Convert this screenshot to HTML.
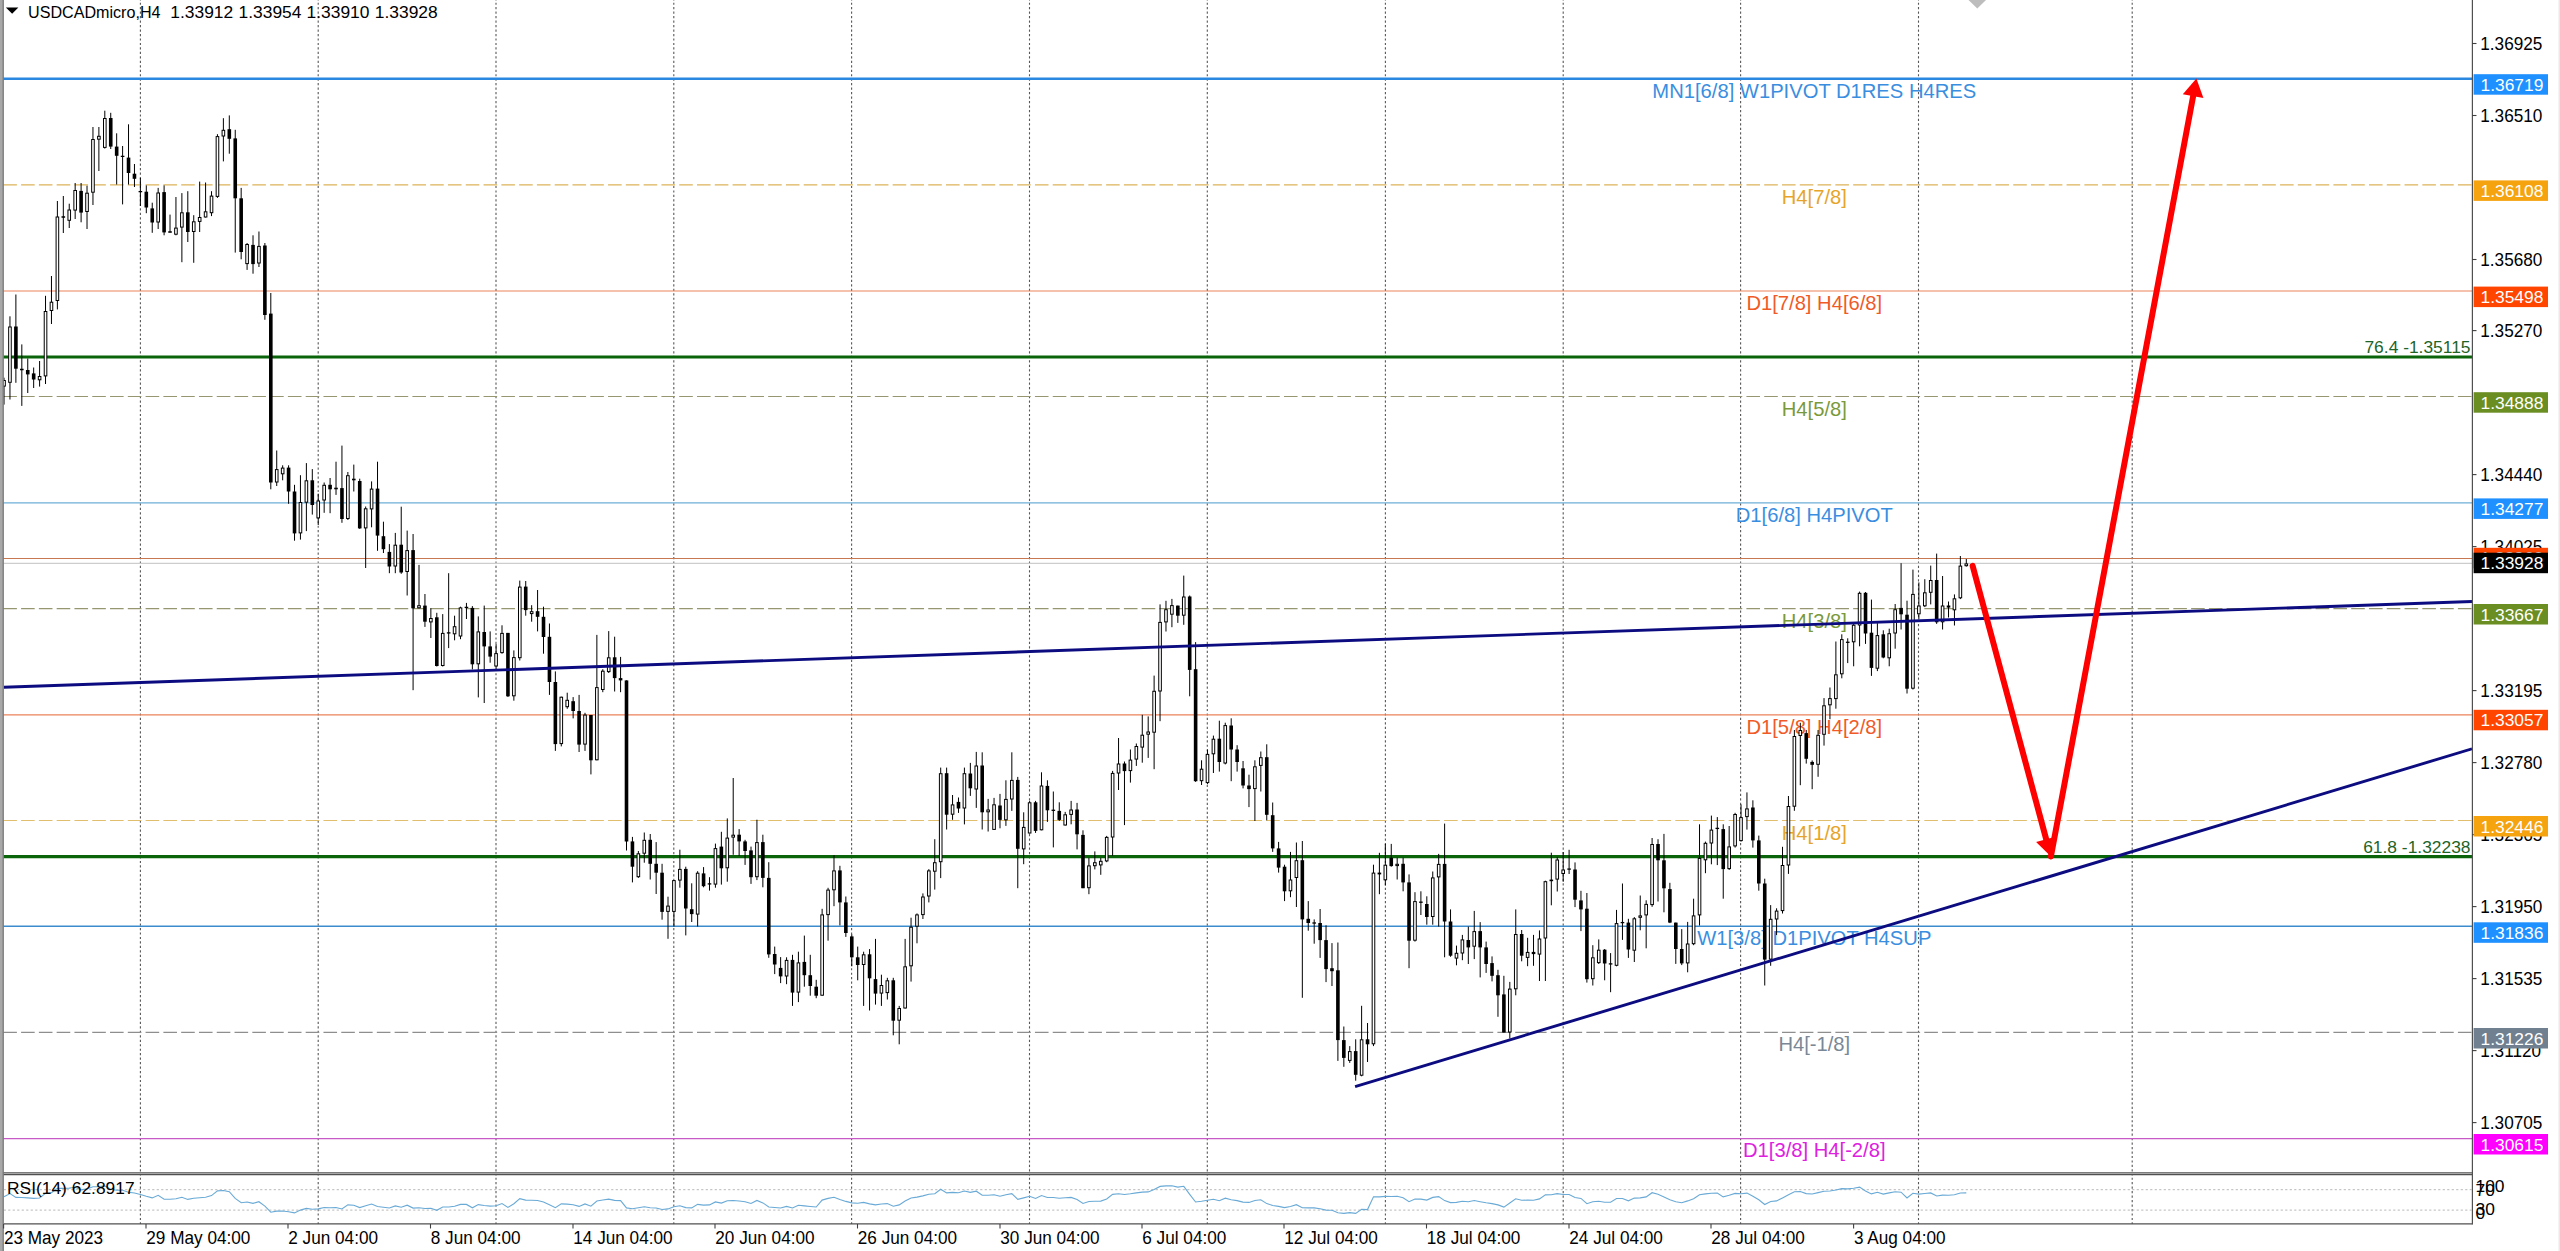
<!DOCTYPE html><html><head><meta charset="utf-8"><style>html,body{margin:0;padding:0;background:#fff;width:2560px;height:1251px;overflow:hidden}svg{display:block} text{font-family:"Liberation Sans", sans-serif}</style></head><body>
<svg width="2560" height="1251" viewBox="0 0 2560 1251">
<rect x="0" y="0" width="2560" height="1251" fill="#ffffff"/>
<defs><clipPath id="main"><rect x="3.7" y="0" width="2468.3" height="1172.3"/></clipPath><clipPath id="rsi"><rect x="3.7" y="1175" width="2468.3" height="48.5"/></clipPath></defs>
<g stroke="#3a3a3a" stroke-width="1.1" stroke-dasharray="2.2 2.27" stroke-dashoffset="1.82" opacity="0.85"><line x1="140.4" y1="0" x2="140.4" y2="1172" /><line x1="140.4" y1="1175" x2="140.4" y2="1224" /><line x1="318.2" y1="0" x2="318.2" y2="1172" /><line x1="318.2" y1="1175" x2="318.2" y2="1224" /><line x1="496.0" y1="0" x2="496.0" y2="1172" /><line x1="496.0" y1="1175" x2="496.0" y2="1224" /><line x1="673.8" y1="0" x2="673.8" y2="1172" /><line x1="673.8" y1="1175" x2="673.8" y2="1224" /><line x1="851.6" y1="0" x2="851.6" y2="1172" /><line x1="851.6" y1="1175" x2="851.6" y2="1224" /><line x1="1029.5" y1="0" x2="1029.5" y2="1172" /><line x1="1029.5" y1="1175" x2="1029.5" y2="1224" /><line x1="1207.3" y1="0" x2="1207.3" y2="1172" /><line x1="1207.3" y1="1175" x2="1207.3" y2="1224" /><line x1="1385.4" y1="0" x2="1385.4" y2="1172" /><line x1="1385.4" y1="1175" x2="1385.4" y2="1224" /><line x1="1563.2" y1="0" x2="1563.2" y2="1172" /><line x1="1563.2" y1="1175" x2="1563.2" y2="1224" /><line x1="1740.6" y1="0" x2="1740.6" y2="1172" /><line x1="1740.6" y1="1175" x2="1740.6" y2="1224" /><line x1="1918.5" y1="0" x2="1918.5" y2="1172" /><line x1="1918.5" y1="1175" x2="1918.5" y2="1224" /><line x1="2132.2" y1="0" x2="2132.2" y2="1172" /><line x1="2132.2" y1="1175" x2="2132.2" y2="1224" /></g>
<g><line x1="3.7" y1="78.8" x2="2472" y2="78.8" stroke="#2a88e0" stroke-width="2.6"/><line x1="3.7" y1="184.8" x2="2472" y2="184.8" stroke="#dcb45a" stroke-width="1.2" stroke-dasharray="13.6 4.187" stroke-dashoffset="0.4"/><line x1="3.7" y1="291.0" x2="2472" y2="291.0" stroke="#eb825a" stroke-width="1.2"/><line x1="3.7" y1="396.5" x2="2472" y2="396.5" stroke="#969670" stroke-width="1.2" stroke-dasharray="13.6 4.187" stroke-dashoffset="0.4"/><line x1="3.7" y1="502.8" x2="2472" y2="502.8" stroke="#6eafd7" stroke-width="1.2"/><line x1="3.7" y1="558.5" x2="2472" y2="558.5" stroke="#c87850" stroke-width="1.2"/><line x1="3.7" y1="563.4" x2="2472" y2="563.4" stroke="#cdcdcd" stroke-width="1.2"/><line x1="3.7" y1="608.6" x2="2472" y2="608.6" stroke="#969670" stroke-width="1.2" stroke-dasharray="13.6 4.187" stroke-dashoffset="0.4"/><line x1="3.7" y1="714.9" x2="2472" y2="714.9" stroke="#eb825a" stroke-width="1.2"/><line x1="3.7" y1="820.5" x2="2472" y2="820.5" stroke="#e1be6e" stroke-width="1.2" stroke-dasharray="13.6 4.187" stroke-dashoffset="0.4"/><line x1="3.7" y1="926.3" x2="2472" y2="926.3" stroke="#3c8ccd" stroke-width="1.5"/><line x1="3.7" y1="1032.4" x2="2472" y2="1032.4" stroke="#8e8e8e" stroke-width="1.2" stroke-dasharray="13.6 4.187" stroke-dashoffset="0.4"/><line x1="3.7" y1="1138.6" x2="2472" y2="1138.6" stroke="#c85ac8" stroke-width="1.2"/></g>
<line x1="3.7" y1="357.0" x2="2472" y2="357.0" stroke="#0a640a" stroke-width="3.2"/>
<line x1="3.7" y1="856.6" x2="2472" y2="856.6" stroke="#0a640a" stroke-width="3.2"/>
<g><text x="1814.3" y="97.8" fill="#3a8ee0" font-size="20.2" text-anchor="middle">MN1[6/8] W1PIVOT D1RES H4RES</text><text x="1814.3" y="203.8" fill="#e6a52a" font-size="20.2" text-anchor="middle">H4[7/8]</text><text x="1814.3" y="310.0" fill="#f05a28" font-size="20.2" text-anchor="middle">D1[7/8] H4[6/8]</text><text x="1814.3" y="415.5" fill="#7a9a3a" font-size="20.2" text-anchor="middle">H4[5/8]</text><text x="1814.3" y="521.8" fill="#3a8ee0" font-size="20.2" text-anchor="middle">D1[6/8] H4PIVOT</text><text x="1814.3" y="627.7" fill="#7a9a3a" font-size="20.2" text-anchor="middle">H4[3/8]</text><text x="1814.3" y="733.8" fill="#f05a28" font-size="20.2" text-anchor="middle">D1[5/8] H4[2/8]</text><text x="1814.3" y="839.5" fill="#e6a52a" font-size="20.2" text-anchor="middle">H4[1/8]</text><text x="1814.3" y="945.4" fill="#3a8ee0" font-size="20.2" text-anchor="middle">W1[3/8] D1PIVOT H4SUP</text><text x="1814.3" y="1051.3" fill="#7a8796" font-size="20.2" text-anchor="middle">H4[-1/8]</text><text x="1814.3" y="1157.4" fill="#e020e0" font-size="20.2" text-anchor="middle">D1[3/8] H4[-2/8]</text></g>
<text x="2470.5" y="353.4" fill="#1e6428" font-size="17.4" text-anchor="end">76.4 -1.35115</text>
<text x="2470.5" y="853.0" fill="#1e6428" font-size="17.4" text-anchor="end">61.8 -1.32238</text>
<g clip-path="url(#main)"><line x1="4.03" y1="377.7" x2="4.03" y2="404.6" stroke="#000" stroke-width="1"/><rect x="2.73" y="380.5" width="2.6" height="5.6" fill="#fff" stroke="#000" stroke-width="1"/><line x1="9.96" y1="316.3" x2="9.96" y2="399.5" stroke="#000" stroke-width="1"/><rect x="8.66" y="327.0" width="2.6" height="55.3" fill="#fff" stroke="#000" stroke-width="1"/><line x1="15.89" y1="294.5" x2="15.89" y2="382.8" stroke="#000" stroke-width="1"/><rect x="14.09" y="326.5" width="3.6" height="42.2" fill="#000"/><line x1="21.82" y1="344.4" x2="21.82" y2="405.9" stroke="#000" stroke-width="1"/><line x1="20.02" y1="369.5" x2="23.62" y2="369.5" stroke="#000" stroke-width="1.3"/><line x1="27.75" y1="358.5" x2="27.75" y2="393.0" stroke="#000" stroke-width="1"/><rect x="25.95" y="370.0" width="3.6" height="4.4" fill="#000"/><line x1="33.67" y1="367.5" x2="33.67" y2="388.0" stroke="#000" stroke-width="1"/><rect x="31.87" y="373.4" width="3.6" height="6.1" fill="#000"/><line x1="39.60" y1="361.0" x2="39.60" y2="386.6" stroke="#000" stroke-width="1"/><rect x="38.30" y="376.5" width="2.6" height="3.3" fill="#fff" stroke="#000" stroke-width="1"/><line x1="45.53" y1="295.8" x2="45.53" y2="384.0" stroke="#000" stroke-width="1"/><rect x="44.23" y="311.5" width="2.6" height="64.4" fill="#fff" stroke="#000" stroke-width="1"/><line x1="51.46" y1="276.0" x2="51.46" y2="324.0" stroke="#000" stroke-width="1"/><rect x="50.16" y="302.2" width="2.6" height="8.3" fill="#fff" stroke="#000" stroke-width="1"/><line x1="57.39" y1="201.0" x2="57.39" y2="309.4" stroke="#000" stroke-width="1"/><rect x="56.09" y="217.0" width="2.6" height="83.5" fill="#fff" stroke="#000" stroke-width="1"/><line x1="63.32" y1="196.0" x2="63.32" y2="233.0" stroke="#000" stroke-width="1"/><line x1="61.52" y1="217.0" x2="65.12" y2="217.0" stroke="#000" stroke-width="1.3"/><line x1="69.24" y1="203.7" x2="69.24" y2="228.0" stroke="#000" stroke-width="1"/><rect x="67.94" y="210.0" width="2.6" height="10.3" fill="#fff" stroke="#000" stroke-width="1"/><line x1="75.17" y1="183.0" x2="75.17" y2="219.0" stroke="#000" stroke-width="1"/><rect x="73.87" y="190.5" width="2.6" height="19.6" fill="#fff" stroke="#000" stroke-width="1"/><line x1="81.10" y1="183.0" x2="81.10" y2="222.3" stroke="#000" stroke-width="1"/><rect x="79.30" y="190.9" width="3.6" height="21.7" fill="#000"/><line x1="87.03" y1="185.7" x2="87.03" y2="229.0" stroke="#000" stroke-width="1"/><rect x="85.73" y="193.2" width="2.6" height="18.3" fill="#fff" stroke="#000" stroke-width="1"/><line x1="92.96" y1="127.0" x2="92.96" y2="205.0" stroke="#000" stroke-width="1"/><rect x="91.66" y="139.5" width="2.6" height="52.7" fill="#fff" stroke="#000" stroke-width="1"/><line x1="98.89" y1="127.0" x2="98.89" y2="171.0" stroke="#000" stroke-width="1"/><rect x="97.59" y="136.3" width="2.6" height="2.9" fill="#fff" stroke="#000" stroke-width="1"/><line x1="104.81" y1="110.7" x2="104.81" y2="148.6" stroke="#000" stroke-width="1"/><rect x="103.51" y="118.5" width="2.6" height="28.9" fill="#fff" stroke="#000" stroke-width="1"/><line x1="110.74" y1="112.8" x2="110.74" y2="149.0" stroke="#000" stroke-width="1"/><rect x="108.94" y="118.0" width="3.6" height="28.6" fill="#000"/><line x1="116.67" y1="133.3" x2="116.67" y2="184.5" stroke="#000" stroke-width="1"/><rect x="114.87" y="146.6" width="3.6" height="9.2" fill="#000"/><line x1="122.60" y1="146.0" x2="122.60" y2="204.4" stroke="#000" stroke-width="1"/><line x1="120.80" y1="156.3" x2="124.40" y2="156.3" stroke="#000" stroke-width="1.3"/><line x1="128.53" y1="124.3" x2="128.53" y2="184.5" stroke="#000" stroke-width="1"/><rect x="126.73" y="157.6" width="3.6" height="15.4" fill="#000"/><line x1="134.46" y1="164.0" x2="134.46" y2="187.0" stroke="#000" stroke-width="1"/><rect x="132.66" y="173.7" width="3.6" height="5.1" fill="#000"/><line x1="140.38" y1="178.0" x2="140.38" y2="206.0" stroke="#000" stroke-width="1"/><line x1="138.58" y1="191.6" x2="142.18" y2="191.6" stroke="#000" stroke-width="1.3"/><line x1="146.31" y1="185.4" x2="146.31" y2="213.2" stroke="#000" stroke-width="1"/><rect x="144.51" y="191.7" width="3.6" height="15.8" fill="#000"/><line x1="152.24" y1="202.7" x2="152.24" y2="232.8" stroke="#000" stroke-width="1"/><rect x="150.44" y="208.4" width="3.6" height="14.1" fill="#000"/><line x1="158.17" y1="187.9" x2="158.17" y2="229.0" stroke="#000" stroke-width="1"/><rect x="156.87" y="193.0" width="2.6" height="29.0" fill="#fff" stroke="#000" stroke-width="1"/><line x1="164.10" y1="185.4" x2="164.10" y2="235.3" stroke="#000" stroke-width="1"/><rect x="162.30" y="192.1" width="3.6" height="40.3" fill="#000"/><line x1="170.03" y1="214.6" x2="170.03" y2="232.4" stroke="#000" stroke-width="1"/><line x1="168.23" y1="232.0" x2="171.83" y2="232.0" stroke="#000" stroke-width="1.3"/><line x1="175.95" y1="197.0" x2="175.95" y2="235.3" stroke="#000" stroke-width="1"/><rect x="174.65" y="228.1" width="2.6" height="6.1" fill="#fff" stroke="#000" stroke-width="1"/><line x1="181.88" y1="193.1" x2="181.88" y2="262.2" stroke="#000" stroke-width="1"/><rect x="180.58" y="212.8" width="2.6" height="14.3" fill="#fff" stroke="#000" stroke-width="1"/><line x1="187.81" y1="191.2" x2="187.81" y2="242.0" stroke="#000" stroke-width="1"/><rect x="186.01" y="212.3" width="3.6" height="19.7" fill="#000"/><line x1="193.74" y1="215.2" x2="193.74" y2="262.8" stroke="#000" stroke-width="1"/><rect x="192.44" y="221.8" width="2.6" height="9.7" fill="#fff" stroke="#000" stroke-width="1"/><line x1="199.67" y1="181.6" x2="199.67" y2="232.0" stroke="#000" stroke-width="1"/><rect x="198.37" y="217.5" width="2.6" height="3.9" fill="#fff" stroke="#000" stroke-width="1"/><line x1="205.59" y1="182.5" x2="205.59" y2="217.5" stroke="#000" stroke-width="1"/><rect x="204.29" y="211.8" width="2.6" height="5.2" fill="#fff" stroke="#000" stroke-width="1"/><line x1="211.52" y1="191.2" x2="211.52" y2="216.1" stroke="#000" stroke-width="1"/><rect x="210.22" y="196.1" width="2.6" height="16.6" fill="#fff" stroke="#000" stroke-width="1"/><line x1="217.45" y1="134.2" x2="217.45" y2="197.9" stroke="#000" stroke-width="1"/><rect x="216.15" y="136.6" width="2.6" height="59.8" fill="#fff" stroke="#000" stroke-width="1"/><line x1="223.38" y1="118.2" x2="223.38" y2="161.4" stroke="#000" stroke-width="1"/><rect x="222.08" y="130.3" width="2.6" height="5.7" fill="#fff" stroke="#000" stroke-width="1"/><line x1="229.31" y1="115.4" x2="229.31" y2="153.7" stroke="#000" stroke-width="1"/><rect x="227.51" y="129.2" width="3.6" height="9.6" fill="#000"/><line x1="235.24" y1="129.8" x2="235.24" y2="252.6" stroke="#000" stroke-width="1"/><rect x="233.44" y="138.4" width="3.6" height="59.9" fill="#000"/><line x1="241.16" y1="187.9" x2="241.16" y2="259.3" stroke="#000" stroke-width="1"/><rect x="239.36" y="198.3" width="3.6" height="53.7" fill="#000"/><line x1="247.09" y1="243.0" x2="247.09" y2="269.9" stroke="#000" stroke-width="1"/><rect x="245.79" y="244.5" width="2.6" height="19.1" fill="#fff" stroke="#000" stroke-width="1"/><line x1="253.02" y1="235.3" x2="253.02" y2="273.7" stroke="#000" stroke-width="1"/><rect x="251.22" y="244.9" width="3.6" height="19.2" fill="#000"/><line x1="258.95" y1="231.5" x2="258.95" y2="267.0" stroke="#000" stroke-width="1"/><rect x="257.65" y="246.4" width="2.6" height="16.6" fill="#fff" stroke="#000" stroke-width="1"/><line x1="264.88" y1="243.0" x2="264.88" y2="319.8" stroke="#000" stroke-width="1"/><rect x="263.08" y="245.5" width="3.6" height="69.5" fill="#000"/><line x1="270.81" y1="293.0" x2="270.81" y2="489.3" stroke="#000" stroke-width="1"/><rect x="269.01" y="313.6" width="3.6" height="168.9" fill="#000"/><line x1="276.73" y1="450.5" x2="276.73" y2="486.0" stroke="#000" stroke-width="1"/><rect x="275.43" y="469.6" width="2.6" height="12.4" fill="#fff" stroke="#000" stroke-width="1"/><line x1="282.66" y1="465.3" x2="282.66" y2="480.3" stroke="#000" stroke-width="1"/><rect x="281.36" y="468.1" width="2.6" height="5.7" fill="#fff" stroke="#000" stroke-width="1"/><line x1="288.59" y1="465.3" x2="288.59" y2="503.8" stroke="#000" stroke-width="1"/><rect x="286.79" y="467.6" width="3.6" height="23.9" fill="#000"/><line x1="294.52" y1="484.8" x2="294.52" y2="540.7" stroke="#000" stroke-width="1"/><rect x="292.72" y="491.5" width="3.6" height="41.9" fill="#000"/><line x1="300.45" y1="475.2" x2="300.45" y2="539.6" stroke="#000" stroke-width="1"/><rect x="299.15" y="502.5" width="2.6" height="30.4" fill="#fff" stroke="#000" stroke-width="1"/><line x1="306.38" y1="463.1" x2="306.38" y2="531.1" stroke="#000" stroke-width="1"/><rect x="305.08" y="480.8" width="2.6" height="21.4" fill="#fff" stroke="#000" stroke-width="1"/><line x1="312.30" y1="469.1" x2="312.30" y2="514.6" stroke="#000" stroke-width="1"/><rect x="310.50" y="480.3" width="3.6" height="24.7" fill="#000"/><line x1="318.23" y1="493.7" x2="318.23" y2="525.0" stroke="#000" stroke-width="1"/><rect x="316.93" y="501.0" width="2.6" height="16.9" fill="#fff" stroke="#000" stroke-width="1"/><line x1="324.16" y1="482.5" x2="324.16" y2="512.8" stroke="#000" stroke-width="1"/><rect x="322.86" y="485.3" width="2.6" height="14.7" fill="#fff" stroke="#000" stroke-width="1"/><line x1="330.09" y1="478.0" x2="330.09" y2="513.2" stroke="#000" stroke-width="1"/><rect x="328.29" y="484.8" width="3.6" height="4.5" fill="#000"/><line x1="336.02" y1="461.7" x2="336.02" y2="494.9" stroke="#000" stroke-width="1"/><rect x="334.72" y="488.2" width="2.6" height="0.6" fill="#fff" stroke="#000" stroke-width="1"/><line x1="341.95" y1="445.6" x2="341.95" y2="522.8" stroke="#000" stroke-width="1"/><rect x="340.15" y="488.1" width="3.6" height="30.9" fill="#000"/><line x1="347.87" y1="472.0" x2="347.87" y2="520.0" stroke="#000" stroke-width="1"/><rect x="346.57" y="475.7" width="2.6" height="42.8" fill="#fff" stroke="#000" stroke-width="1"/><line x1="353.80" y1="464.6" x2="353.80" y2="491.5" stroke="#000" stroke-width="1"/><rect x="352.00" y="478.7" width="3.6" height="1.6" fill="#000"/><line x1="359.73" y1="478.7" x2="359.73" y2="528.9" stroke="#000" stroke-width="1"/><rect x="357.93" y="481.0" width="3.6" height="47.4" fill="#000"/><line x1="365.66" y1="506.5" x2="365.66" y2="568.0" stroke="#000" stroke-width="1"/><rect x="364.36" y="508.8" width="2.6" height="19.1" fill="#fff" stroke="#000" stroke-width="1"/><line x1="371.59" y1="481.4" x2="371.59" y2="527.3" stroke="#000" stroke-width="1"/><rect x="370.29" y="489.1" width="2.6" height="19.8" fill="#fff" stroke="#000" stroke-width="1"/><line x1="377.52" y1="461.7" x2="377.52" y2="550.8" stroke="#000" stroke-width="1"/><rect x="375.72" y="488.6" width="3.6" height="47.0" fill="#000"/><line x1="383.44" y1="521.7" x2="383.44" y2="553.0" stroke="#000" stroke-width="1"/><rect x="381.64" y="536.2" width="3.6" height="13.0" fill="#000"/><line x1="389.37" y1="544.1" x2="389.37" y2="573.2" stroke="#000" stroke-width="1"/><rect x="387.57" y="551.9" width="3.6" height="14.6" fill="#000"/><line x1="395.30" y1="532.9" x2="395.30" y2="573.2" stroke="#000" stroke-width="1"/><rect x="394.00" y="545.2" width="2.6" height="20.8" fill="#fff" stroke="#000" stroke-width="1"/><line x1="401.23" y1="506.7" x2="401.23" y2="573.8" stroke="#000" stroke-width="1"/><rect x="399.43" y="544.7" width="3.6" height="27.8" fill="#000"/><line x1="407.16" y1="530.6" x2="407.16" y2="595.5" stroke="#000" stroke-width="1"/><rect x="405.86" y="550.6" width="2.6" height="20.9" fill="#fff" stroke="#000" stroke-width="1"/><line x1="413.09" y1="534.0" x2="413.09" y2="690.2" stroke="#000" stroke-width="1"/><rect x="411.29" y="550.1" width="3.6" height="58.2" fill="#000"/><line x1="419.01" y1="564.9" x2="419.01" y2="608.3" stroke="#000" stroke-width="1"/><rect x="417.71" y="605.7" width="2.6" height="2.1" fill="#fff" stroke="#000" stroke-width="1"/><line x1="424.94" y1="594.0" x2="424.94" y2="626.9" stroke="#000" stroke-width="1"/><rect x="423.14" y="605.6" width="3.6" height="16.1" fill="#000"/><line x1="430.87" y1="608.3" x2="430.87" y2="638.0" stroke="#000" stroke-width="1"/><rect x="429.57" y="618.5" width="2.6" height="3.4" fill="#fff" stroke="#000" stroke-width="1"/><line x1="436.80" y1="612.8" x2="436.80" y2="666.5" stroke="#000" stroke-width="1"/><rect x="435.00" y="617.3" width="3.6" height="48.7" fill="#000"/><line x1="442.73" y1="614.1" x2="442.73" y2="666.5" stroke="#000" stroke-width="1"/><rect x="441.43" y="633.4" width="2.6" height="32.1" fill="#fff" stroke="#000" stroke-width="1"/><line x1="448.66" y1="573.2" x2="448.66" y2="648.1" stroke="#000" stroke-width="1"/><line x1="446.86" y1="632.9" x2="450.46" y2="632.9" stroke="#000" stroke-width="1.3"/><line x1="454.58" y1="615.7" x2="454.58" y2="640.3" stroke="#000" stroke-width="1"/><rect x="453.28" y="626.7" width="2.6" height="7.1" fill="#fff" stroke="#000" stroke-width="1"/><line x1="460.51" y1="606.7" x2="460.51" y2="639.2" stroke="#000" stroke-width="1"/><rect x="459.21" y="607.9" width="2.6" height="28.1" fill="#fff" stroke="#000" stroke-width="1"/><line x1="466.44" y1="602.9" x2="466.44" y2="619.0" stroke="#000" stroke-width="1"/><line x1="464.64" y1="607.4" x2="468.24" y2="607.4" stroke="#000" stroke-width="1.3"/><line x1="472.37" y1="606.1" x2="472.37" y2="669.4" stroke="#000" stroke-width="1"/><rect x="470.57" y="607.9" width="3.6" height="56.4" fill="#000"/><line x1="478.30" y1="616.4" x2="478.30" y2="697.4" stroke="#000" stroke-width="1"/><rect x="477.00" y="631.9" width="2.6" height="31.9" fill="#fff" stroke="#000" stroke-width="1"/><line x1="484.22" y1="605.6" x2="484.22" y2="703.0" stroke="#000" stroke-width="1"/><rect x="482.42" y="632.0" width="3.6" height="14.4" fill="#000"/><line x1="490.15" y1="631.4" x2="490.15" y2="662.7" stroke="#000" stroke-width="1"/><rect x="488.35" y="646.4" width="3.6" height="10.2" fill="#000"/><line x1="496.08" y1="644.1" x2="496.08" y2="670.5" stroke="#000" stroke-width="1"/><rect x="494.78" y="653.6" width="2.6" height="12.4" fill="#fff" stroke="#000" stroke-width="1"/><line x1="502.01" y1="625.3" x2="502.01" y2="653.7" stroke="#000" stroke-width="1"/><rect x="500.71" y="633.4" width="2.6" height="19.2" fill="#fff" stroke="#000" stroke-width="1"/><line x1="507.94" y1="632.9" x2="507.94" y2="697.0" stroke="#000" stroke-width="1"/><rect x="506.14" y="632.9" width="3.6" height="63.4" fill="#000"/><line x1="513.87" y1="650.4" x2="513.87" y2="700.7" stroke="#000" stroke-width="1"/><rect x="512.57" y="657.6" width="2.6" height="38.2" fill="#fff" stroke="#000" stroke-width="1"/><line x1="519.79" y1="580.6" x2="519.79" y2="660.5" stroke="#000" stroke-width="1"/><rect x="518.49" y="587.1" width="2.6" height="70.6" fill="#fff" stroke="#000" stroke-width="1"/><line x1="525.72" y1="581.0" x2="525.72" y2="615.7" stroke="#000" stroke-width="1"/><rect x="523.92" y="586.6" width="3.6" height="23.5" fill="#000"/><line x1="531.65" y1="605.2" x2="531.65" y2="621.7" stroke="#000" stroke-width="1"/><rect x="530.35" y="611.7" width="2.6" height="1.9" fill="#fff" stroke="#000" stroke-width="1"/><line x1="537.58" y1="590.0" x2="537.58" y2="631.4" stroke="#000" stroke-width="1"/><rect x="535.78" y="611.2" width="3.6" height="5.6" fill="#000"/><line x1="543.51" y1="606.7" x2="543.51" y2="653.7" stroke="#000" stroke-width="1"/><rect x="541.71" y="616.8" width="3.6" height="20.2" fill="#000"/><line x1="549.44" y1="623.5" x2="549.44" y2="694.9" stroke="#000" stroke-width="1"/><rect x="547.64" y="636.8" width="3.6" height="45.2" fill="#000"/><line x1="555.36" y1="671.4" x2="555.36" y2="750.9" stroke="#000" stroke-width="1"/><rect x="553.56" y="682.0" width="3.6" height="62.1" fill="#000"/><line x1="561.29" y1="696.7" x2="561.29" y2="746.4" stroke="#000" stroke-width="1"/><rect x="559.99" y="697.2" width="2.6" height="46.4" fill="#fff" stroke="#000" stroke-width="1"/><line x1="567.22" y1="692.7" x2="567.22" y2="708.8" stroke="#000" stroke-width="1"/><rect x="565.92" y="700.3" width="2.6" height="6.4" fill="#fff" stroke="#000" stroke-width="1"/><line x1="573.15" y1="697.1" x2="573.15" y2="718.4" stroke="#000" stroke-width="1"/><rect x="571.35" y="701.2" width="3.6" height="9.8" fill="#000"/><line x1="579.08" y1="694.9" x2="579.08" y2="752.0" stroke="#000" stroke-width="1"/><rect x="577.28" y="711.0" width="3.6" height="33.6" fill="#000"/><line x1="585.01" y1="712.8" x2="585.01" y2="750.9" stroke="#000" stroke-width="1"/><rect x="583.71" y="715.1" width="2.6" height="29.0" fill="#fff" stroke="#000" stroke-width="1"/><line x1="590.93" y1="715.0" x2="590.93" y2="774.4" stroke="#000" stroke-width="1"/><rect x="589.13" y="715.0" width="3.6" height="45.3" fill="#000"/><line x1="596.86" y1="634.9" x2="596.86" y2="760.3" stroke="#000" stroke-width="1"/><rect x="595.56" y="687.6" width="2.6" height="72.2" fill="#fff" stroke="#000" stroke-width="1"/><line x1="602.79" y1="669.2" x2="602.79" y2="692.2" stroke="#000" stroke-width="1"/><rect x="601.49" y="671.2" width="2.6" height="18.3" fill="#fff" stroke="#000" stroke-width="1"/><line x1="608.72" y1="631.1" x2="608.72" y2="673.0" stroke="#000" stroke-width="1"/><rect x="607.42" y="657.8" width="2.6" height="13.8" fill="#fff" stroke="#000" stroke-width="1"/><line x1="614.65" y1="636.7" x2="614.65" y2="691.5" stroke="#000" stroke-width="1"/><rect x="612.85" y="657.3" width="3.6" height="20.8" fill="#000"/><line x1="620.58" y1="656.9" x2="620.58" y2="692.2" stroke="#000" stroke-width="1"/><rect x="618.78" y="678.1" width="3.6" height="2.3" fill="#000"/><line x1="626.50" y1="680.4" x2="626.50" y2="850.5" stroke="#000" stroke-width="1"/><rect x="624.70" y="680.4" width="3.6" height="161.1" fill="#000"/><line x1="632.43" y1="836.9" x2="632.43" y2="882.4" stroke="#000" stroke-width="1"/><rect x="630.63" y="841.4" width="3.6" height="25.3" fill="#000"/><line x1="638.36" y1="851.0" x2="638.36" y2="877.9" stroke="#000" stroke-width="1"/><rect x="637.06" y="853.8" width="2.6" height="22.9" fill="#fff" stroke="#000" stroke-width="1"/><line x1="644.29" y1="832.5" x2="644.29" y2="862.7" stroke="#000" stroke-width="1"/><rect x="642.99" y="840.3" width="2.6" height="12.9" fill="#fff" stroke="#000" stroke-width="1"/><line x1="650.22" y1="834.0" x2="650.22" y2="879.5" stroke="#000" stroke-width="1"/><rect x="648.42" y="839.8" width="3.6" height="24.0" fill="#000"/><line x1="656.15" y1="842.1" x2="656.15" y2="894.0" stroke="#000" stroke-width="1"/><rect x="654.35" y="863.8" width="3.6" height="8.9" fill="#000"/><line x1="662.07" y1="863.8" x2="662.07" y2="919.7" stroke="#000" stroke-width="1"/><rect x="660.27" y="872.7" width="3.6" height="39.2" fill="#000"/><line x1="668.00" y1="896.7" x2="668.00" y2="938.8" stroke="#000" stroke-width="1"/><rect x="666.70" y="906.1" width="2.6" height="5.3" fill="#fff" stroke="#000" stroke-width="1"/><line x1="673.93" y1="880.1" x2="673.93" y2="926.5" stroke="#000" stroke-width="1"/><rect x="672.63" y="880.6" width="2.6" height="30.8" fill="#fff" stroke="#000" stroke-width="1"/><line x1="679.86" y1="849.7" x2="679.86" y2="887.7" stroke="#000" stroke-width="1"/><rect x="678.56" y="869.4" width="2.6" height="10.7" fill="#fff" stroke="#000" stroke-width="1"/><line x1="685.79" y1="866.7" x2="685.79" y2="935.4" stroke="#000" stroke-width="1"/><rect x="683.99" y="868.9" width="3.6" height="39.6" fill="#000"/><line x1="691.72" y1="883.3" x2="691.72" y2="922.0" stroke="#000" stroke-width="1"/><rect x="689.92" y="909.2" width="3.6" height="4.9" fill="#000"/><line x1="697.64" y1="871.2" x2="697.64" y2="926.5" stroke="#000" stroke-width="1"/><rect x="696.34" y="873.2" width="2.6" height="40.9" fill="#fff" stroke="#000" stroke-width="1"/><line x1="703.57" y1="867.1" x2="703.57" y2="887.3" stroke="#000" stroke-width="1"/><rect x="701.77" y="873.4" width="3.6" height="12.8" fill="#000"/><line x1="709.50" y1="877.2" x2="709.50" y2="890.6" stroke="#000" stroke-width="1"/><line x1="707.70" y1="883.9" x2="711.30" y2="883.9" stroke="#000" stroke-width="1.3"/><line x1="715.43" y1="843.6" x2="715.43" y2="887.7" stroke="#000" stroke-width="1"/><rect x="714.13" y="848.6" width="2.6" height="35.5" fill="#fff" stroke="#000" stroke-width="1"/><line x1="721.36" y1="831.8" x2="721.36" y2="884.6" stroke="#000" stroke-width="1"/><rect x="719.56" y="846.6" width="3.6" height="21.7" fill="#000"/><line x1="727.29" y1="818.4" x2="727.29" y2="881.7" stroke="#000" stroke-width="1"/><rect x="725.99" y="838.1" width="2.6" height="29.7" fill="#fff" stroke="#000" stroke-width="1"/><line x1="733.21" y1="778.0" x2="733.21" y2="854.8" stroke="#000" stroke-width="1"/><rect x="731.91" y="835.2" width="2.6" height="1.9" fill="#fff" stroke="#000" stroke-width="1"/><line x1="739.14" y1="829.1" x2="739.14" y2="856.0" stroke="#000" stroke-width="1"/><rect x="737.34" y="834.7" width="3.6" height="6.7" fill="#000"/><line x1="745.07" y1="839.8" x2="745.07" y2="864.9" stroke="#000" stroke-width="1"/><rect x="743.27" y="841.4" width="3.6" height="9.6" fill="#000"/><line x1="751.00" y1="846.6" x2="751.00" y2="883.9" stroke="#000" stroke-width="1"/><rect x="749.20" y="850.4" width="3.6" height="26.8" fill="#000"/><line x1="756.93" y1="819.7" x2="756.93" y2="880.1" stroke="#000" stroke-width="1"/><rect x="755.63" y="842.6" width="2.6" height="34.1" fill="#fff" stroke="#000" stroke-width="1"/><line x1="762.86" y1="834.7" x2="762.86" y2="887.3" stroke="#000" stroke-width="1"/><rect x="761.06" y="842.1" width="3.6" height="35.8" fill="#000"/><line x1="768.78" y1="862.2" x2="768.78" y2="957.8" stroke="#000" stroke-width="1"/><rect x="766.98" y="877.9" width="3.6" height="76.5" fill="#000"/><line x1="774.71" y1="946.6" x2="774.71" y2="974.1" stroke="#000" stroke-width="1"/><rect x="772.91" y="954.0" width="3.6" height="10.5" fill="#000"/><line x1="780.64" y1="957.1" x2="780.64" y2="983.1" stroke="#000" stroke-width="1"/><rect x="778.84" y="967.9" width="3.6" height="8.5" fill="#000"/><line x1="786.57" y1="957.3" x2="786.57" y2="984.2" stroke="#000" stroke-width="1"/><rect x="785.27" y="960.4" width="2.6" height="15.6" fill="#fff" stroke="#000" stroke-width="1"/><line x1="792.50" y1="954.8" x2="792.50" y2="1005.9" stroke="#000" stroke-width="1"/><rect x="790.70" y="959.9" width="3.6" height="32.7" fill="#000"/><line x1="798.42" y1="951.7" x2="798.42" y2="1002.1" stroke="#000" stroke-width="1"/><rect x="797.12" y="962.9" width="2.6" height="29.2" fill="#fff" stroke="#000" stroke-width="1"/><line x1="804.35" y1="935.6" x2="804.35" y2="986.7" stroke="#000" stroke-width="1"/><rect x="802.55" y="961.9" width="3.6" height="13.3" fill="#000"/><line x1="810.28" y1="954.8" x2="810.28" y2="995.7" stroke="#000" stroke-width="1"/><rect x="808.48" y="975.2" width="3.6" height="10.8" fill="#000"/><line x1="816.21" y1="979.8" x2="816.21" y2="998.2" stroke="#000" stroke-width="1"/><rect x="814.41" y="986.7" width="3.6" height="9.0" fill="#000"/><line x1="822.14" y1="908.8" x2="822.14" y2="995.7" stroke="#000" stroke-width="1"/><rect x="820.84" y="914.9" width="2.6" height="80.3" fill="#fff" stroke="#000" stroke-width="1"/><line x1="828.07" y1="887.8" x2="828.07" y2="940.7" stroke="#000" stroke-width="1"/><rect x="826.77" y="890.1" width="2.6" height="24.5" fill="#fff" stroke="#000" stroke-width="1"/><line x1="833.99" y1="855.1" x2="833.99" y2="906.2" stroke="#000" stroke-width="1"/><rect x="832.69" y="870.9" width="2.6" height="18.9" fill="#fff" stroke="#000" stroke-width="1"/><line x1="839.92" y1="865.8" x2="839.92" y2="925.4" stroke="#000" stroke-width="1"/><rect x="838.12" y="870.4" width="3.6" height="32.0" fill="#000"/><line x1="845.85" y1="896.5" x2="845.85" y2="936.9" stroke="#000" stroke-width="1"/><rect x="844.05" y="902.4" width="3.6" height="30.6" fill="#000"/><line x1="851.78" y1="934.3" x2="851.78" y2="966.3" stroke="#000" stroke-width="1"/><rect x="849.98" y="936.4" width="3.6" height="20.9" fill="#000"/><line x1="857.71" y1="946.6" x2="857.71" y2="980.3" stroke="#000" stroke-width="1"/><rect x="855.91" y="957.3" width="3.6" height="7.7" fill="#000"/><line x1="863.64" y1="951.7" x2="863.64" y2="1005.9" stroke="#000" stroke-width="1"/><rect x="862.34" y="954.8" width="2.6" height="9.7" fill="#fff" stroke="#000" stroke-width="1"/><line x1="869.56" y1="949.1" x2="869.56" y2="1010.5" stroke="#000" stroke-width="1"/><rect x="867.76" y="954.3" width="3.6" height="24.0" fill="#000"/><line x1="875.49" y1="938.9" x2="875.49" y2="1004.6" stroke="#000" stroke-width="1"/><rect x="873.69" y="979.1" width="3.6" height="14.5" fill="#000"/><line x1="881.42" y1="974.7" x2="881.42" y2="1005.9" stroke="#000" stroke-width="1"/><rect x="880.12" y="985.5" width="2.6" height="7.6" fill="#fff" stroke="#000" stroke-width="1"/><line x1="887.35" y1="977.8" x2="887.35" y2="999.5" stroke="#000" stroke-width="1"/><rect x="886.05" y="980.8" width="2.6" height="11.8" fill="#fff" stroke="#000" stroke-width="1"/><line x1="893.28" y1="977.8" x2="893.28" y2="1035.3" stroke="#000" stroke-width="1"/><rect x="891.48" y="980.3" width="3.6" height="40.4" fill="#000"/><line x1="899.21" y1="1005.9" x2="899.21" y2="1044.3" stroke="#000" stroke-width="1"/><rect x="897.91" y="1008.5" width="2.6" height="11.7" fill="#fff" stroke="#000" stroke-width="1"/><line x1="905.13" y1="938.9" x2="905.13" y2="1008.5" stroke="#000" stroke-width="1"/><rect x="903.83" y="966.8" width="2.6" height="41.2" fill="#fff" stroke="#000" stroke-width="1"/><line x1="911.06" y1="917.7" x2="911.06" y2="981.6" stroke="#000" stroke-width="1"/><rect x="909.76" y="927.2" width="2.6" height="38.6" fill="#fff" stroke="#000" stroke-width="1"/><line x1="916.99" y1="913.4" x2="916.99" y2="943.3" stroke="#000" stroke-width="1"/><rect x="915.69" y="914.9" width="2.6" height="11.3" fill="#fff" stroke="#000" stroke-width="1"/><line x1="922.92" y1="893.4" x2="922.92" y2="919.0" stroke="#000" stroke-width="1"/><rect x="921.62" y="897.0" width="2.6" height="17.6" fill="#fff" stroke="#000" stroke-width="1"/><line x1="928.85" y1="869.1" x2="928.85" y2="902.4" stroke="#000" stroke-width="1"/><rect x="927.55" y="870.9" width="2.6" height="25.1" fill="#fff" stroke="#000" stroke-width="1"/><line x1="934.78" y1="839.2" x2="934.78" y2="889.6" stroke="#000" stroke-width="1"/><rect x="933.48" y="862.7" width="2.6" height="8.5" fill="#fff" stroke="#000" stroke-width="1"/><line x1="940.70" y1="767.6" x2="940.70" y2="878.1" stroke="#000" stroke-width="1"/><rect x="939.40" y="773.7" width="2.6" height="88.0" fill="#fff" stroke="#000" stroke-width="1"/><line x1="946.63" y1="767.6" x2="946.63" y2="829.5" stroke="#000" stroke-width="1"/><rect x="944.83" y="773.2" width="3.6" height="41.5" fill="#000"/><line x1="952.56" y1="795.0" x2="952.56" y2="819.8" stroke="#000" stroke-width="1"/><rect x="951.26" y="804.9" width="2.6" height="9.3" fill="#fff" stroke="#000" stroke-width="1"/><line x1="958.49" y1="797.5" x2="958.49" y2="812.9" stroke="#000" stroke-width="1"/><rect x="956.69" y="801.9" width="3.6" height="6.6" fill="#000"/><line x1="964.42" y1="767.6" x2="964.42" y2="824.4" stroke="#000" stroke-width="1"/><rect x="963.12" y="773.7" width="2.6" height="34.3" fill="#fff" stroke="#000" stroke-width="1"/><line x1="970.35" y1="762.9" x2="970.35" y2="795.9" stroke="#000" stroke-width="1"/><rect x="968.55" y="773.5" width="3.6" height="14.8" fill="#000"/><line x1="976.27" y1="751.9" x2="976.27" y2="807.9" stroke="#000" stroke-width="1"/><rect x="974.97" y="766.0" width="2.6" height="23.0" fill="#fff" stroke="#000" stroke-width="1"/><line x1="982.20" y1="752.3" x2="982.20" y2="829.5" stroke="#000" stroke-width="1"/><rect x="980.40" y="765.5" width="3.6" height="46.8" fill="#000"/><line x1="988.13" y1="798.9" x2="988.13" y2="831.5" stroke="#000" stroke-width="1"/><rect x="986.83" y="810.0" width="2.6" height="1.8" fill="#fff" stroke="#000" stroke-width="1"/><line x1="994.06" y1="797.9" x2="994.06" y2="829.9" stroke="#000" stroke-width="1"/><rect x="992.76" y="804.8" width="2.6" height="24.6" fill="#fff" stroke="#000" stroke-width="1"/><line x1="999.99" y1="793.9" x2="999.99" y2="828.3" stroke="#000" stroke-width="1"/><rect x="998.19" y="805.5" width="3.6" height="14.4" fill="#000"/><line x1="1005.92" y1="780.3" x2="1005.92" y2="825.9" stroke="#000" stroke-width="1"/><rect x="1004.62" y="799.4" width="2.6" height="20.4" fill="#fff" stroke="#000" stroke-width="1"/><line x1="1011.84" y1="752.3" x2="1011.84" y2="810.9" stroke="#000" stroke-width="1"/><rect x="1010.54" y="780.4" width="2.6" height="18.6" fill="#fff" stroke="#000" stroke-width="1"/><line x1="1017.77" y1="776.9" x2="1017.77" y2="888.2" stroke="#000" stroke-width="1"/><rect x="1015.97" y="779.9" width="3.6" height="68.9" fill="#000"/><line x1="1023.70" y1="812.3" x2="1023.70" y2="864.2" stroke="#000" stroke-width="1"/><rect x="1022.40" y="827.4" width="2.6" height="21.5" fill="#fff" stroke="#000" stroke-width="1"/><line x1="1029.63" y1="800.9" x2="1029.63" y2="833.5" stroke="#000" stroke-width="1"/><rect x="1028.33" y="802.8" width="2.6" height="30.2" fill="#fff" stroke="#000" stroke-width="1"/><line x1="1035.56" y1="800.9" x2="1035.56" y2="832.9" stroke="#000" stroke-width="1"/><rect x="1033.76" y="802.3" width="3.6" height="28.6" fill="#000"/><line x1="1041.49" y1="772.3" x2="1041.49" y2="830.3" stroke="#000" stroke-width="1"/><rect x="1040.19" y="786.0" width="2.6" height="43.8" fill="#fff" stroke="#000" stroke-width="1"/><line x1="1047.41" y1="780.3" x2="1047.41" y2="821.9" stroke="#000" stroke-width="1"/><rect x="1045.61" y="785.9" width="3.6" height="24.4" fill="#000"/><line x1="1053.34" y1="791.5" x2="1053.34" y2="847.4" stroke="#000" stroke-width="1"/><line x1="1051.54" y1="810.3" x2="1055.14" y2="810.3" stroke="#000" stroke-width="1.3"/><line x1="1059.27" y1="802.3" x2="1059.27" y2="820.9" stroke="#000" stroke-width="1"/><rect x="1057.47" y="810.9" width="3.6" height="9.0" fill="#000"/><line x1="1065.20" y1="811.9" x2="1065.20" y2="825.5" stroke="#000" stroke-width="1"/><rect x="1063.90" y="814.8" width="2.6" height="10.2" fill="#fff" stroke="#000" stroke-width="1"/><line x1="1071.13" y1="800.9" x2="1071.13" y2="824.3" stroke="#000" stroke-width="1"/><rect x="1069.83" y="810.0" width="2.6" height="4.4" fill="#fff" stroke="#000" stroke-width="1"/><line x1="1077.05" y1="802.9" x2="1077.05" y2="849.4" stroke="#000" stroke-width="1"/><rect x="1075.25" y="809.5" width="3.6" height="24.8" fill="#000"/><line x1="1082.98" y1="830.3" x2="1082.98" y2="888.2" stroke="#000" stroke-width="1"/><rect x="1081.18" y="834.9" width="3.6" height="53.3" fill="#000"/><line x1="1088.91" y1="857.8" x2="1088.91" y2="894.2" stroke="#000" stroke-width="1"/><rect x="1087.61" y="865.9" width="2.6" height="21.8" fill="#fff" stroke="#000" stroke-width="1"/><line x1="1094.84" y1="851.4" x2="1094.84" y2="869.4" stroke="#000" stroke-width="1"/><rect x="1093.54" y="862.7" width="2.6" height="3.0" fill="#fff" stroke="#000" stroke-width="1"/><line x1="1100.77" y1="857.8" x2="1100.77" y2="874.8" stroke="#000" stroke-width="1"/><rect x="1099.47" y="861.3" width="2.6" height="3.6" fill="#fff" stroke="#000" stroke-width="1"/><line x1="1106.70" y1="835.9" x2="1106.70" y2="862.2" stroke="#000" stroke-width="1"/><rect x="1105.40" y="837.4" width="2.6" height="23.5" fill="#fff" stroke="#000" stroke-width="1"/><line x1="1112.62" y1="770.9" x2="1112.62" y2="855.8" stroke="#000" stroke-width="1"/><rect x="1111.32" y="773.4" width="2.6" height="63.6" fill="#fff" stroke="#000" stroke-width="1"/><line x1="1118.55" y1="738.0" x2="1118.55" y2="790.0" stroke="#000" stroke-width="1"/><rect x="1117.25" y="764.0" width="2.6" height="9.0" fill="#fff" stroke="#000" stroke-width="1"/><line x1="1124.48" y1="761.5" x2="1124.48" y2="825.1" stroke="#000" stroke-width="1"/><rect x="1122.68" y="763.5" width="3.6" height="7.6" fill="#000"/><line x1="1130.41" y1="749.5" x2="1130.41" y2="782.6" stroke="#000" stroke-width="1"/><rect x="1129.11" y="760.1" width="2.6" height="10.5" fill="#fff" stroke="#000" stroke-width="1"/><line x1="1136.34" y1="743.5" x2="1136.34" y2="765.9" stroke="#000" stroke-width="1"/><rect x="1135.04" y="746.5" width="2.6" height="12.6" fill="#fff" stroke="#000" stroke-width="1"/><line x1="1142.27" y1="714.8" x2="1142.27" y2="762.7" stroke="#000" stroke-width="1"/><rect x="1140.97" y="735.2" width="2.6" height="11.9" fill="#fff" stroke="#000" stroke-width="1"/><line x1="1148.19" y1="716.4" x2="1148.19" y2="757.9" stroke="#000" stroke-width="1"/><rect x="1146.89" y="732.0" width="2.6" height="2.2" fill="#fff" stroke="#000" stroke-width="1"/><line x1="1154.12" y1="675.6" x2="1154.12" y2="769.2" stroke="#000" stroke-width="1"/><rect x="1152.82" y="691.3" width="2.6" height="40.9" fill="#fff" stroke="#000" stroke-width="1"/><line x1="1160.05" y1="604.4" x2="1160.05" y2="721.2" stroke="#000" stroke-width="1"/><rect x="1158.75" y="622.4" width="2.6" height="68.6" fill="#fff" stroke="#000" stroke-width="1"/><line x1="1165.98" y1="600.8" x2="1165.98" y2="631.5" stroke="#000" stroke-width="1"/><rect x="1164.68" y="609.7" width="2.6" height="12.2" fill="#fff" stroke="#000" stroke-width="1"/><line x1="1171.91" y1="598.9" x2="1171.91" y2="627.2" stroke="#000" stroke-width="1"/><rect x="1170.61" y="605.6" width="2.6" height="8.6" fill="#fff" stroke="#000" stroke-width="1"/><line x1="1177.84" y1="605.6" x2="1177.84" y2="622.9" stroke="#000" stroke-width="1"/><rect x="1176.04" y="605.6" width="3.6" height="10.1" fill="#000"/><line x1="1183.76" y1="575.6" x2="1183.76" y2="624.8" stroke="#000" stroke-width="1"/><rect x="1182.46" y="597.0" width="2.6" height="18.2" fill="#fff" stroke="#000" stroke-width="1"/><line x1="1189.69" y1="595.5" x2="1189.69" y2="696.3" stroke="#000" stroke-width="1"/><rect x="1187.89" y="596.5" width="3.6" height="73.4" fill="#000"/><line x1="1195.62" y1="642.1" x2="1195.62" y2="781.9" stroke="#000" stroke-width="1"/><rect x="1193.82" y="669.2" width="3.6" height="112.0" fill="#000"/><line x1="1201.55" y1="760.3" x2="1201.55" y2="785.0" stroke="#000" stroke-width="1"/><rect x="1200.25" y="769.2" width="2.6" height="11.5" fill="#fff" stroke="#000" stroke-width="1"/><line x1="1207.48" y1="749.5" x2="1207.48" y2="784.3" stroke="#000" stroke-width="1"/><rect x="1206.18" y="754.4" width="2.6" height="28.2" fill="#fff" stroke="#000" stroke-width="1"/><line x1="1213.41" y1="735.6" x2="1213.41" y2="773.0" stroke="#000" stroke-width="1"/><rect x="1212.11" y="739.2" width="2.6" height="14.6" fill="#fff" stroke="#000" stroke-width="1"/><line x1="1219.33" y1="720.7" x2="1219.33" y2="771.6" stroke="#000" stroke-width="1"/><rect x="1217.53" y="738.7" width="3.6" height="23.3" fill="#000"/><line x1="1225.26" y1="722.7" x2="1225.26" y2="764.4" stroke="#000" stroke-width="1"/><rect x="1223.96" y="725.6" width="2.6" height="37.4" fill="#fff" stroke="#000" stroke-width="1"/><line x1="1231.19" y1="718.3" x2="1231.19" y2="781.2" stroke="#000" stroke-width="1"/><rect x="1229.39" y="725.5" width="3.6" height="24.0" fill="#000"/><line x1="1237.12" y1="745.2" x2="1237.12" y2="771.6" stroke="#000" stroke-width="1"/><rect x="1235.32" y="749.5" width="3.6" height="12.5" fill="#000"/><line x1="1243.05" y1="761.0" x2="1243.05" y2="788.4" stroke="#000" stroke-width="1"/><rect x="1241.25" y="768.3" width="3.6" height="17.2" fill="#000"/><line x1="1248.98" y1="774.7" x2="1248.98" y2="807.1" stroke="#000" stroke-width="1"/><rect x="1247.18" y="785.5" width="3.6" height="3.6" fill="#000"/><line x1="1254.90" y1="760.3" x2="1254.90" y2="821.0" stroke="#000" stroke-width="1"/><rect x="1253.60" y="766.8" width="2.6" height="21.8" fill="#fff" stroke="#000" stroke-width="1"/><line x1="1260.83" y1="751.5" x2="1260.83" y2="791.5" stroke="#000" stroke-width="1"/><rect x="1259.53" y="757.7" width="2.6" height="7.7" fill="#fff" stroke="#000" stroke-width="1"/><line x1="1266.76" y1="744.3" x2="1266.76" y2="820.3" stroke="#000" stroke-width="1"/><rect x="1264.96" y="757.2" width="3.6" height="57.6" fill="#000"/><line x1="1272.69" y1="802.5" x2="1272.69" y2="851.9" stroke="#000" stroke-width="1"/><rect x="1270.89" y="815.2" width="3.6" height="33.2" fill="#000"/><line x1="1278.62" y1="841.9" x2="1278.62" y2="872.6" stroke="#000" stroke-width="1"/><rect x="1276.82" y="848.4" width="3.6" height="19.2" fill="#000"/><line x1="1284.55" y1="864.7" x2="1284.55" y2="901.1" stroke="#000" stroke-width="1"/><rect x="1282.75" y="866.7" width="3.6" height="24.6" fill="#000"/><line x1="1290.47" y1="851.9" x2="1290.47" y2="897.2" stroke="#000" stroke-width="1"/><rect x="1289.17" y="880.0" width="2.6" height="10.8" fill="#fff" stroke="#000" stroke-width="1"/><line x1="1296.40" y1="842.5" x2="1296.40" y2="907.0" stroke="#000" stroke-width="1"/><rect x="1295.10" y="860.7" width="2.6" height="16.8" fill="#fff" stroke="#000" stroke-width="1"/><line x1="1302.33" y1="841.0" x2="1302.33" y2="997.8" stroke="#000" stroke-width="1"/><rect x="1300.53" y="860.2" width="3.6" height="59.2" fill="#000"/><line x1="1308.26" y1="901.1" x2="1308.26" y2="930.7" stroke="#000" stroke-width="1"/><rect x="1306.46" y="918.8" width="3.6" height="4.2" fill="#000"/><line x1="1314.19" y1="919.4" x2="1314.19" y2="943.7" stroke="#000" stroke-width="1"/><line x1="1312.39" y1="923.0" x2="1315.99" y2="923.0" stroke="#000" stroke-width="1.3"/><line x1="1320.12" y1="909.0" x2="1320.12" y2="957.9" stroke="#000" stroke-width="1"/><rect x="1318.32" y="923.0" width="3.6" height="17.1" fill="#000"/><line x1="1326.04" y1="925.3" x2="1326.04" y2="982.1" stroke="#000" stroke-width="1"/><rect x="1324.24" y="940.1" width="3.6" height="29.0" fill="#000"/><line x1="1331.97" y1="943.1" x2="1331.97" y2="986.0" stroke="#000" stroke-width="1"/><rect x="1330.17" y="968.2" width="3.6" height="3.0" fill="#000"/><line x1="1337.90" y1="942.5" x2="1337.90" y2="1060.9" stroke="#000" stroke-width="1"/><rect x="1336.10" y="970.3" width="3.6" height="69.8" fill="#000"/><line x1="1343.83" y1="1026.5" x2="1343.83" y2="1066.8" stroke="#000" stroke-width="1"/><rect x="1342.03" y="1040.1" width="3.6" height="17.8" fill="#000"/><line x1="1349.76" y1="1046.1" x2="1349.76" y2="1062.9" stroke="#000" stroke-width="1"/><rect x="1348.46" y="1051.6" width="2.6" height="8.8" fill="#fff" stroke="#000" stroke-width="1"/><line x1="1355.69" y1="1039.3" x2="1355.69" y2="1080.7" stroke="#000" stroke-width="1"/><rect x="1353.89" y="1051.1" width="3.6" height="23.7" fill="#000"/><line x1="1361.61" y1="1005.8" x2="1361.61" y2="1076.3" stroke="#000" stroke-width="1"/><rect x="1360.31" y="1039.8" width="2.6" height="35.4" fill="#fff" stroke="#000" stroke-width="1"/><line x1="1367.54" y1="1023.0" x2="1367.54" y2="1062.0" stroke="#000" stroke-width="1"/><rect x="1365.74" y="1039.3" width="3.6" height="5.0" fill="#000"/><line x1="1373.47" y1="864.7" x2="1373.47" y2="1046.1" stroke="#000" stroke-width="1"/><rect x="1372.17" y="873.1" width="2.6" height="170.7" fill="#fff" stroke="#000" stroke-width="1"/><line x1="1379.40" y1="852.8" x2="1379.40" y2="894.2" stroke="#000" stroke-width="1"/><rect x="1377.60" y="872.6" width="3.6" height="1.8" fill="#000"/><line x1="1385.33" y1="843.9" x2="1385.33" y2="885.4" stroke="#000" stroke-width="1"/><rect x="1384.03" y="865.2" width="2.6" height="14.6" fill="#fff" stroke="#000" stroke-width="1"/><line x1="1391.25" y1="843.9" x2="1391.25" y2="866.7" stroke="#000" stroke-width="1"/><rect x="1389.45" y="857.8" width="3.6" height="8.3" fill="#000"/><line x1="1397.18" y1="857.8" x2="1397.18" y2="879.5" stroke="#000" stroke-width="1"/><rect x="1395.88" y="864.3" width="2.6" height="1.3" fill="#fff" stroke="#000" stroke-width="1"/><line x1="1403.11" y1="857.8" x2="1403.11" y2="891.3" stroke="#000" stroke-width="1"/><rect x="1401.31" y="863.8" width="3.6" height="18.6" fill="#000"/><line x1="1409.04" y1="874.4" x2="1409.04" y2="968.2" stroke="#000" stroke-width="1"/><rect x="1407.24" y="882.4" width="3.6" height="58.3" fill="#000"/><line x1="1414.97" y1="892.2" x2="1414.97" y2="941.6" stroke="#000" stroke-width="1"/><rect x="1413.67" y="901.6" width="2.6" height="38.6" fill="#fff" stroke="#000" stroke-width="1"/><line x1="1420.90" y1="891.3" x2="1420.90" y2="915.0" stroke="#000" stroke-width="1"/><line x1="1419.10" y1="902.2" x2="1422.70" y2="902.2" stroke="#000" stroke-width="1.3"/><line x1="1426.82" y1="896.3" x2="1426.82" y2="924.7" stroke="#000" stroke-width="1"/><rect x="1425.02" y="904.0" width="3.6" height="13.0" fill="#000"/><line x1="1432.75" y1="871.5" x2="1432.75" y2="924.7" stroke="#000" stroke-width="1"/><rect x="1431.45" y="877.9" width="2.6" height="38.6" fill="#fff" stroke="#000" stroke-width="1"/><line x1="1438.68" y1="853.9" x2="1438.68" y2="926.6" stroke="#000" stroke-width="1"/><rect x="1437.38" y="864.4" width="2.6" height="12.5" fill="#fff" stroke="#000" stroke-width="1"/><line x1="1444.61" y1="823.6" x2="1444.61" y2="957.3" stroke="#000" stroke-width="1"/><rect x="1442.81" y="863.9" width="3.6" height="57.6" fill="#000"/><line x1="1450.54" y1="909.4" x2="1450.54" y2="956.8" stroke="#000" stroke-width="1"/><rect x="1448.74" y="921.5" width="3.6" height="34.2" fill="#000"/><line x1="1456.47" y1="945.6" x2="1456.47" y2="965.3" stroke="#000" stroke-width="1"/><rect x="1455.17" y="953.3" width="2.6" height="4.8" fill="#fff" stroke="#000" stroke-width="1"/><line x1="1462.39" y1="934.9" x2="1462.39" y2="960.2" stroke="#000" stroke-width="1"/><rect x="1461.09" y="939.9" width="2.6" height="13.1" fill="#fff" stroke="#000" stroke-width="1"/><line x1="1468.32" y1="926.6" x2="1468.32" y2="964.0" stroke="#000" stroke-width="1"/><rect x="1466.52" y="940.0" width="3.6" height="7.4" fill="#000"/><line x1="1474.25" y1="910.9" x2="1474.25" y2="959.1" stroke="#000" stroke-width="1"/><rect x="1472.95" y="931.6" width="2.6" height="14.6" fill="#fff" stroke="#000" stroke-width="1"/><line x1="1480.18" y1="922.1" x2="1480.18" y2="977.4" stroke="#000" stroke-width="1"/><rect x="1478.38" y="931.1" width="3.6" height="16.3" fill="#000"/><line x1="1486.11" y1="941.6" x2="1486.11" y2="972.9" stroke="#000" stroke-width="1"/><rect x="1484.31" y="947.4" width="3.6" height="16.6" fill="#000"/><line x1="1492.04" y1="956.4" x2="1492.04" y2="981.4" stroke="#000" stroke-width="1"/><rect x="1490.24" y="963.1" width="3.6" height="12.7" fill="#000"/><line x1="1497.96" y1="969.8" x2="1497.96" y2="1016.8" stroke="#000" stroke-width="1"/><rect x="1496.16" y="975.2" width="3.6" height="20.1" fill="#000"/><line x1="1503.89" y1="975.8" x2="1503.89" y2="1032.5" stroke="#000" stroke-width="1"/><rect x="1502.09" y="994.4" width="3.6" height="38.1" fill="#000"/><line x1="1509.82" y1="981.9" x2="1509.82" y2="1038.5" stroke="#000" stroke-width="1"/><rect x="1508.52" y="989.1" width="2.6" height="42.9" fill="#fff" stroke="#000" stroke-width="1"/><line x1="1515.75" y1="909.4" x2="1515.75" y2="995.3" stroke="#000" stroke-width="1"/><rect x="1514.45" y="934.5" width="2.6" height="54.3" fill="#fff" stroke="#000" stroke-width="1"/><line x1="1521.68" y1="930.0" x2="1521.68" y2="961.3" stroke="#000" stroke-width="1"/><rect x="1519.88" y="934.0" width="3.6" height="21.7" fill="#000"/><line x1="1527.61" y1="937.8" x2="1527.61" y2="966.2" stroke="#000" stroke-width="1"/><rect x="1526.31" y="952.4" width="2.6" height="5.0" fill="#fff" stroke="#000" stroke-width="1"/><line x1="1533.53" y1="934.9" x2="1533.53" y2="965.8" stroke="#000" stroke-width="1"/><rect x="1531.73" y="951.9" width="3.6" height="2.2" fill="#000"/><line x1="1539.46" y1="930.4" x2="1539.46" y2="981.0" stroke="#000" stroke-width="1"/><rect x="1538.16" y="939.0" width="2.6" height="15.1" fill="#fff" stroke="#000" stroke-width="1"/><line x1="1545.39" y1="880.7" x2="1545.39" y2="981.0" stroke="#000" stroke-width="1"/><rect x="1544.09" y="881.7" width="2.6" height="56.3" fill="#fff" stroke="#000" stroke-width="1"/><line x1="1551.32" y1="852.7" x2="1551.32" y2="905.3" stroke="#000" stroke-width="1"/><rect x="1550.02" y="880.1" width="2.6" height="0.6" fill="#fff" stroke="#000" stroke-width="1"/><line x1="1557.25" y1="857.2" x2="1557.25" y2="891.5" stroke="#000" stroke-width="1"/><rect x="1555.95" y="860.0" width="2.6" height="19.1" fill="#fff" stroke="#000" stroke-width="1"/><line x1="1563.18" y1="852.1" x2="1563.18" y2="881.8" stroke="#000" stroke-width="1"/><rect x="1561.88" y="870.0" width="2.6" height="3.5" fill="#fff" stroke="#000" stroke-width="1"/><line x1="1569.10" y1="849.8" x2="1569.10" y2="874.0" stroke="#000" stroke-width="1"/><line x1="1567.30" y1="869.1" x2="1570.90" y2="869.1" stroke="#000" stroke-width="1.3"/><line x1="1575.03" y1="862.4" x2="1575.03" y2="907.1" stroke="#000" stroke-width="1"/><rect x="1573.23" y="869.5" width="3.6" height="30.2" fill="#000"/><line x1="1580.96" y1="890.8" x2="1580.96" y2="931.1" stroke="#000" stroke-width="1"/><rect x="1579.16" y="900.4" width="3.6" height="9.0" fill="#000"/><line x1="1586.89" y1="893.0" x2="1586.89" y2="982.6" stroke="#000" stroke-width="1"/><rect x="1585.09" y="908.7" width="3.6" height="70.5" fill="#000"/><line x1="1592.82" y1="945.2" x2="1592.82" y2="985.5" stroke="#000" stroke-width="1"/><rect x="1591.52" y="957.8" width="2.6" height="20.9" fill="#fff" stroke="#000" stroke-width="1"/><line x1="1598.75" y1="939.4" x2="1598.75" y2="964.0" stroke="#000" stroke-width="1"/><rect x="1597.45" y="950.2" width="2.6" height="12.4" fill="#fff" stroke="#000" stroke-width="1"/><line x1="1604.67" y1="949.0" x2="1604.67" y2="980.3" stroke="#000" stroke-width="1"/><rect x="1602.87" y="949.7" width="3.6" height="13.8" fill="#000"/><line x1="1610.60" y1="953.1" x2="1610.60" y2="992.2" stroke="#000" stroke-width="1"/><line x1="1608.80" y1="963.9" x2="1612.40" y2="963.9" stroke="#000" stroke-width="1.3"/><line x1="1616.53" y1="909.9" x2="1616.53" y2="966.3" stroke="#000" stroke-width="1"/><rect x="1615.23" y="923.6" width="2.6" height="41.7" fill="#fff" stroke="#000" stroke-width="1"/><line x1="1622.46" y1="883.5" x2="1622.46" y2="939.9" stroke="#000" stroke-width="1"/><line x1="1620.66" y1="922.6" x2="1624.26" y2="922.6" stroke="#000" stroke-width="1.3"/><line x1="1628.39" y1="918.8" x2="1628.39" y2="957.9" stroke="#000" stroke-width="1"/><rect x="1626.59" y="922.6" width="3.6" height="26.9" fill="#000"/><line x1="1634.32" y1="917.1" x2="1634.32" y2="962.0" stroke="#000" stroke-width="1"/><rect x="1633.02" y="918.8" width="2.6" height="31.4" fill="#fff" stroke="#000" stroke-width="1"/><line x1="1640.24" y1="895.5" x2="1640.24" y2="930.3" stroke="#000" stroke-width="1"/><rect x="1638.94" y="915.9" width="2.6" height="1.4" fill="#fff" stroke="#000" stroke-width="1"/><line x1="1646.17" y1="900.3" x2="1646.17" y2="948.3" stroke="#000" stroke-width="1"/><rect x="1644.87" y="904.4" width="2.6" height="10.5" fill="#fff" stroke="#000" stroke-width="1"/><line x1="1652.10" y1="838.0" x2="1652.10" y2="906.8" stroke="#000" stroke-width="1"/><rect x="1650.80" y="844.5" width="2.6" height="60.1" fill="#fff" stroke="#000" stroke-width="1"/><line x1="1658.03" y1="839.2" x2="1658.03" y2="901.5" stroke="#000" stroke-width="1"/><rect x="1656.23" y="844.0" width="3.6" height="16.3" fill="#000"/><line x1="1663.96" y1="833.9" x2="1663.96" y2="912.3" stroke="#000" stroke-width="1"/><rect x="1662.16" y="860.3" width="3.6" height="28.0" fill="#000"/><line x1="1669.88" y1="882.8" x2="1669.88" y2="923.1" stroke="#000" stroke-width="1"/><rect x="1668.09" y="889.1" width="3.6" height="33.5" fill="#000"/><line x1="1675.81" y1="922.6" x2="1675.81" y2="963.9" stroke="#000" stroke-width="1"/><rect x="1674.01" y="922.6" width="3.6" height="26.4" fill="#000"/><line x1="1681.74" y1="929.1" x2="1681.74" y2="965.1" stroke="#000" stroke-width="1"/><rect x="1679.94" y="949.0" width="3.6" height="14.4" fill="#000"/><line x1="1687.67" y1="921.9" x2="1687.67" y2="972.3" stroke="#000" stroke-width="1"/><rect x="1686.37" y="944.0" width="2.6" height="18.9" fill="#fff" stroke="#000" stroke-width="1"/><line x1="1693.60" y1="898.7" x2="1693.60" y2="945.2" stroke="#000" stroke-width="1"/><rect x="1692.30" y="915.9" width="2.6" height="27.8" fill="#fff" stroke="#000" stroke-width="1"/><line x1="1699.53" y1="824.3" x2="1699.53" y2="925.5" stroke="#000" stroke-width="1"/><rect x="1698.23" y="858.4" width="2.6" height="56.5" fill="#fff" stroke="#000" stroke-width="1"/><line x1="1705.45" y1="841.6" x2="1705.45" y2="873.2" stroke="#000" stroke-width="1"/><rect x="1704.15" y="843.3" width="2.6" height="16.5" fill="#fff" stroke="#000" stroke-width="1"/><line x1="1711.38" y1="815.6" x2="1711.38" y2="864.3" stroke="#000" stroke-width="1"/><rect x="1710.08" y="830.1" width="2.6" height="12.9" fill="#fff" stroke="#000" stroke-width="1"/><line x1="1717.31" y1="817.1" x2="1717.31" y2="865.1" stroke="#000" stroke-width="1"/><line x1="1715.51" y1="828.4" x2="1719.11" y2="828.4" stroke="#000" stroke-width="1.3"/><line x1="1723.24" y1="824.3" x2="1723.24" y2="898.7" stroke="#000" stroke-width="1"/><rect x="1721.44" y="829.1" width="3.6" height="40.0" fill="#000"/><line x1="1729.17" y1="826.0" x2="1729.17" y2="869.9" stroke="#000" stroke-width="1"/><rect x="1727.87" y="846.9" width="2.6" height="21.7" fill="#fff" stroke="#000" stroke-width="1"/><line x1="1735.10" y1="812.8" x2="1735.10" y2="847.6" stroke="#000" stroke-width="1"/><rect x="1733.80" y="814.5" width="2.6" height="31.4" fill="#fff" stroke="#000" stroke-width="1"/><line x1="1741.02" y1="804.4" x2="1741.02" y2="841.6" stroke="#000" stroke-width="1"/><rect x="1739.72" y="817.6" width="2.6" height="23.0" fill="#fff" stroke="#000" stroke-width="1"/><line x1="1746.95" y1="792.4" x2="1746.95" y2="829.6" stroke="#000" stroke-width="1"/><rect x="1745.65" y="808.9" width="2.6" height="7.7" fill="#fff" stroke="#000" stroke-width="1"/><line x1="1752.88" y1="800.3" x2="1752.88" y2="847.6" stroke="#000" stroke-width="1"/><rect x="1751.08" y="807.5" width="3.6" height="32.9" fill="#000"/><line x1="1758.81" y1="835.6" x2="1758.81" y2="890.7" stroke="#000" stroke-width="1"/><rect x="1757.01" y="840.4" width="3.6" height="43.1" fill="#000"/><line x1="1764.74" y1="878.7" x2="1764.74" y2="985.5" stroke="#000" stroke-width="1"/><rect x="1762.94" y="883.5" width="3.6" height="76.1" fill="#000"/><line x1="1770.67" y1="905.1" x2="1770.67" y2="965.8" stroke="#000" stroke-width="1"/><rect x="1769.37" y="919.3" width="2.6" height="39.8" fill="#fff" stroke="#000" stroke-width="1"/><line x1="1776.59" y1="908.3" x2="1776.59" y2="935.1" stroke="#000" stroke-width="1"/><rect x="1775.29" y="911.1" width="2.6" height="7.9" fill="#fff" stroke="#000" stroke-width="1"/><line x1="1782.52" y1="846.8" x2="1782.52" y2="913.5" stroke="#000" stroke-width="1"/><rect x="1781.22" y="865.5" width="2.6" height="45.1" fill="#fff" stroke="#000" stroke-width="1"/><line x1="1788.45" y1="796.0" x2="1788.45" y2="873.9" stroke="#000" stroke-width="1"/><rect x="1787.15" y="806.5" width="2.6" height="58.5" fill="#fff" stroke="#000" stroke-width="1"/><line x1="1794.38" y1="730.0" x2="1794.38" y2="810.8" stroke="#000" stroke-width="1"/><rect x="1793.08" y="736.5" width="2.6" height="69.7" fill="#fff" stroke="#000" stroke-width="1"/><line x1="1800.31" y1="722.8" x2="1800.31" y2="785.2" stroke="#000" stroke-width="1"/><rect x="1799.01" y="730.5" width="2.6" height="5.0" fill="#fff" stroke="#000" stroke-width="1"/><line x1="1806.24" y1="730.0" x2="1806.24" y2="763.6" stroke="#000" stroke-width="1"/><rect x="1804.44" y="733.1" width="3.6" height="25.7" fill="#000"/><line x1="1812.16" y1="760.4" x2="1812.16" y2="789.2" stroke="#000" stroke-width="1"/><rect x="1810.36" y="761.9" width="3.6" height="2.9" fill="#000"/><line x1="1818.09" y1="730.0" x2="1818.09" y2="776.8" stroke="#000" stroke-width="1"/><rect x="1816.79" y="735.3" width="2.6" height="29.0" fill="#fff" stroke="#000" stroke-width="1"/><line x1="1824.02" y1="698.1" x2="1824.02" y2="745.6" stroke="#000" stroke-width="1"/><rect x="1822.72" y="705.8" width="2.6" height="28.5" fill="#fff" stroke="#000" stroke-width="1"/><line x1="1829.95" y1="687.5" x2="1829.95" y2="719.2" stroke="#000" stroke-width="1"/><rect x="1828.65" y="698.6" width="2.6" height="6.2" fill="#fff" stroke="#000" stroke-width="1"/><line x1="1835.88" y1="641.5" x2="1835.88" y2="708.7" stroke="#000" stroke-width="1"/><rect x="1834.58" y="674.8" width="2.6" height="23.8" fill="#fff" stroke="#000" stroke-width="1"/><line x1="1841.81" y1="634.3" x2="1841.81" y2="678.3" stroke="#000" stroke-width="1"/><rect x="1840.51" y="639.6" width="2.6" height="34.2" fill="#fff" stroke="#000" stroke-width="1"/><line x1="1847.73" y1="638.3" x2="1847.73" y2="663.1" stroke="#000" stroke-width="1"/><line x1="1845.93" y1="642.3" x2="1849.53" y2="642.3" stroke="#000" stroke-width="1.3"/><line x1="1853.66" y1="623.9" x2="1853.66" y2="666.3" stroke="#000" stroke-width="1"/><rect x="1852.36" y="625.2" width="2.6" height="16.6" fill="#fff" stroke="#000" stroke-width="1"/><line x1="1859.59" y1="591.6" x2="1859.59" y2="646.3" stroke="#000" stroke-width="1"/><rect x="1858.29" y="593.3" width="2.6" height="31.7" fill="#fff" stroke="#000" stroke-width="1"/><line x1="1865.52" y1="592.0" x2="1865.52" y2="643.9" stroke="#000" stroke-width="1"/><rect x="1863.72" y="592.8" width="3.6" height="40.7" fill="#000"/><line x1="1871.45" y1="599.6" x2="1871.45" y2="675.9" stroke="#000" stroke-width="1"/><rect x="1869.65" y="632.7" width="3.6" height="35.2" fill="#000"/><line x1="1877.38" y1="623.1" x2="1877.38" y2="671.1" stroke="#000" stroke-width="1"/><rect x="1876.08" y="635.6" width="2.6" height="32.6" fill="#fff" stroke="#000" stroke-width="1"/><line x1="1883.30" y1="630.3" x2="1883.30" y2="658.3" stroke="#000" stroke-width="1"/><rect x="1881.50" y="634.3" width="3.6" height="23.2" fill="#000"/><line x1="1889.23" y1="628.7" x2="1889.23" y2="666.3" stroke="#000" stroke-width="1"/><rect x="1887.93" y="633.7" width="2.6" height="24.1" fill="#fff" stroke="#000" stroke-width="1"/><line x1="1895.16" y1="604.0" x2="1895.16" y2="648.7" stroke="#000" stroke-width="1"/><rect x="1893.86" y="609.7" width="2.6" height="23.3" fill="#fff" stroke="#000" stroke-width="1"/><line x1="1901.09" y1="563.2" x2="1901.09" y2="629.5" stroke="#000" stroke-width="1"/><rect x="1899.29" y="607.9" width="3.6" height="6.4" fill="#000"/><line x1="1907.02" y1="600.7" x2="1907.02" y2="693.5" stroke="#000" stroke-width="1"/><rect x="1905.22" y="614.7" width="3.6" height="74.0" fill="#000"/><line x1="1912.95" y1="569.6" x2="1912.95" y2="689.5" stroke="#000" stroke-width="1"/><rect x="1911.65" y="594.4" width="2.6" height="93.8" fill="#fff" stroke="#000" stroke-width="1"/><line x1="1918.87" y1="582.4" x2="1918.87" y2="619.1" stroke="#000" stroke-width="1"/><rect x="1917.57" y="606.0" width="2.6" height="7.8" fill="#fff" stroke="#000" stroke-width="1"/><line x1="1924.80" y1="579.2" x2="1924.80" y2="607.1" stroke="#000" stroke-width="1"/><rect x="1923.50" y="592.8" width="2.6" height="13.0" fill="#fff" stroke="#000" stroke-width="1"/><line x1="1930.73" y1="565.6" x2="1930.73" y2="604.4" stroke="#000" stroke-width="1"/><rect x="1929.43" y="580.5" width="2.6" height="11.8" fill="#fff" stroke="#000" stroke-width="1"/><line x1="1936.66" y1="553.6" x2="1936.66" y2="623.9" stroke="#000" stroke-width="1"/><rect x="1934.86" y="580.0" width="3.6" height="42.3" fill="#000"/><line x1="1942.59" y1="576.0" x2="1942.59" y2="629.5" stroke="#000" stroke-width="1"/><rect x="1941.29" y="606.0" width="2.6" height="15.8" fill="#fff" stroke="#000" stroke-width="1"/><line x1="1948.52" y1="601.5" x2="1948.52" y2="617.5" stroke="#000" stroke-width="1"/><rect x="1946.72" y="605.5" width="3.6" height="2.1" fill="#000"/><line x1="1954.44" y1="594.4" x2="1954.44" y2="625.5" stroke="#000" stroke-width="1"/><rect x="1953.14" y="598.8" width="2.6" height="11.0" fill="#fff" stroke="#000" stroke-width="1"/><line x1="1960.37" y1="556.0" x2="1960.37" y2="599.1" stroke="#000" stroke-width="1"/><rect x="1959.07" y="566.1" width="2.6" height="31.7" fill="#fff" stroke="#000" stroke-width="1"/><line x1="1966.30" y1="559.0" x2="1966.30" y2="566.6" stroke="#000" stroke-width="1"/><rect x="1965.00" y="563.9" width="2.6" height="1.8" fill="#fff" stroke="#000" stroke-width="1"/></g>
<g clip-path="url(#main)">
<line x1="3.7" y1="687.2" x2="2472" y2="601.5" stroke="#0c0c80" stroke-width="2.9"/>
<line x1="1355.1" y1="1086.6" x2="2472" y2="748.8" stroke="#0c0c80" stroke-width="2.9"/>
</g>
<line x1="1972.6" y1="565.8" x2="2046.7" y2="841.1" stroke="#ff0000" stroke-width="6.0" stroke-linecap="round"/><polygon points="2050.9,856.5 2036.1,841.9 2056.4,836.4" fill="#ff0000"/>
<line x1="2050.9" y1="856.5" x2="2193.5" y2="94.2" stroke="#ff0000" stroke-width="6.0" stroke-linecap="round"/><polygon points="2196.4,78.5 2203.4,98.1 2182.8,94.3" fill="#ff0000"/>
<polygon points="1968.5,0 1977.3,-9 1986,0 1977.3,8.6" fill="#bdbdbd"/>
<rect x="0" y="0" width="2.5" height="1251" fill="#a8a8a8"/>
<rect x="2.5" y="0" width="1.2" height="1251" fill="#555"/>
<line x1="3.7" y1="1172.8" x2="2472.4" y2="1172.8" stroke="#505050" stroke-width="1.2"/>
<line x1="3.7" y1="1174.6" x2="2472.4" y2="1174.6" stroke="#505050" stroke-width="1.2"/>
<line x1="3.7" y1="1223.9" x2="2472.4" y2="1223.9" stroke="#505050" stroke-width="1.2"/>
<line x1="2472.4" y1="0" x2="2472.4" y2="1224.5" stroke="#505050" stroke-width="1.2"/>
<line x1="2559.2" y1="0" x2="2559.2" y2="1251" stroke="#e4e4e4" stroke-width="1.2"/>
<g clip-path="url(#rsi)">
<line x1="3.7" y1="1189.7" x2="2472" y2="1189.7" stroke="#b8b8b8" stroke-width="1" stroke-dasharray="2.2 2.3"/>
<line x1="3.7" y1="1210.1" x2="2472" y2="1210.1" stroke="#b8b8b8" stroke-width="1" stroke-dasharray="2.2 2.3"/>
<polyline fill="none" stroke="#6aaad6" stroke-width="1.1" points="4.0,1196.8 10.0,1193.6 15.9,1197.4 21.8,1197.5 27.7,1197.9 33.7,1198.4 39.6,1198.0 45.5,1193.2 51.5,1192.6 57.4,1188.4 63.3,1188.4 69.2,1188.1 75.2,1187.3 81.1,1189.9 87.0,1188.9 93.0,1186.7 98.9,1186.6 104.8,1185.9 110.7,1189.2 116.7,1190.3 122.6,1190.3 128.5,1192.3 134.5,1193.0 140.4,1194.5 146.3,1196.3 152.2,1197.9 158.2,1195.3 164.1,1199.2 170.0,1199.2 176.0,1198.8 181.9,1197.3 187.8,1199.4 193.7,1198.3 199.7,1197.8 205.6,1197.2 211.5,1195.6 217.5,1190.9 223.4,1190.5 229.3,1191.7 235.2,1198.4 241.2,1202.7 247.1,1202.0 253.0,1203.4 258.9,1201.7 264.9,1206.1 270.8,1212.2 276.7,1211.1 282.7,1211.0 288.6,1211.7 294.5,1212.9 300.4,1210.1 306.4,1208.4 312.3,1209.3 318.2,1208.9 324.2,1207.5 330.1,1207.7 336.0,1207.5 341.9,1209.0 347.9,1204.9 353.8,1205.2 359.7,1207.6 365.7,1205.8 371.6,1204.0 377.5,1206.5 383.4,1207.2 389.4,1208.0 395.3,1205.9 401.2,1207.3 407.2,1205.2 413.1,1208.1 419.0,1207.8 424.9,1208.5 430.9,1208.2 436.8,1210.3 442.7,1207.0 448.7,1207.0 454.6,1206.3 460.5,1204.4 466.4,1204.4 472.4,1207.8 478.3,1204.6 484.2,1205.5 490.2,1206.1 496.1,1205.7 502.0,1203.6 507.9,1207.4 513.9,1203.7 519.8,1198.6 525.7,1200.1 531.7,1200.2 537.6,1200.5 543.5,1201.9 549.4,1204.7 555.4,1207.7 561.3,1203.9 567.2,1204.1 573.1,1204.7 579.1,1206.4 585.0,1203.9 590.9,1206.2 596.9,1201.0 602.8,1200.0 608.7,1199.1 614.6,1200.4 620.6,1200.6 626.5,1207.9 632.4,1208.7 638.4,1207.8 644.3,1206.8 650.2,1207.7 656.1,1208.0 662.1,1209.5 668.0,1208.9 673.9,1206.8 679.9,1205.8 685.8,1207.6 691.7,1207.9 697.6,1204.4 703.6,1205.1 709.5,1204.9 715.4,1201.9 721.4,1203.1 727.3,1200.7 733.2,1200.5 739.1,1201.0 745.1,1201.7 751.0,1203.5 756.9,1200.4 762.9,1202.9 768.8,1207.0 774.7,1207.5 780.6,1208.0 786.6,1206.4 792.5,1208.0 798.4,1205.2 804.4,1205.9 810.3,1206.5 816.2,1207.0 822.1,1200.1 828.1,1198.4 834.0,1197.2 839.9,1199.4 845.9,1201.4 851.8,1202.9 857.7,1203.3 863.6,1202.4 869.6,1203.9 875.5,1204.9 881.4,1204.0 887.3,1203.6 893.3,1206.2 899.2,1204.9 905.1,1201.0 911.1,1198.0 917.0,1197.1 922.9,1195.9 928.8,1194.2 934.8,1193.7 940.7,1189.2 946.6,1192.9 952.6,1192.4 958.5,1192.7 964.4,1191.0 970.3,1192.4 976.3,1191.2 982.2,1195.3 988.1,1195.2 994.1,1194.8 1000.0,1196.2 1005.9,1194.8 1011.8,1193.6 1017.8,1199.4 1023.7,1197.9 1029.6,1196.3 1035.6,1198.5 1041.5,1195.6 1047.4,1197.5 1053.3,1197.5 1059.3,1198.2 1065.2,1197.8 1071.1,1197.4 1077.1,1199.6 1083.0,1203.5 1088.9,1201.5 1094.8,1201.3 1100.8,1201.1 1106.7,1199.0 1112.6,1194.4 1118.6,1193.8 1124.5,1194.5 1130.4,1193.8 1136.3,1192.9 1142.3,1192.1 1148.2,1191.9 1154.1,1189.4 1160.1,1186.4 1166.0,1185.9 1171.9,1185.8 1177.8,1187.1 1183.8,1186.3 1189.7,1194.3 1195.6,1202.0 1201.5,1201.2 1207.5,1200.2 1213.4,1199.2 1219.3,1200.7 1225.3,1198.2 1231.2,1199.8 1237.1,1200.6 1243.0,1202.1 1249.0,1202.4 1254.9,1200.5 1260.8,1199.8 1266.8,1203.6 1272.7,1205.5 1278.6,1206.4 1284.5,1207.6 1290.5,1206.5 1296.4,1204.7 1302.3,1207.7 1308.3,1207.9 1314.2,1207.9 1320.1,1208.7 1326.0,1210.1 1332.0,1210.2 1337.9,1212.8 1343.8,1213.4 1349.8,1212.6 1355.7,1213.4 1361.6,1209.4 1367.5,1209.6 1373.5,1196.8 1379.4,1196.9 1385.3,1196.4 1391.3,1196.5 1397.2,1196.3 1403.1,1197.8 1409.0,1201.7 1415.0,1199.0 1420.9,1199.1 1426.8,1200.1 1432.8,1197.4 1438.7,1196.6 1444.6,1200.6 1450.5,1202.6 1456.5,1202.4 1462.4,1201.3 1468.3,1201.8 1474.3,1200.5 1480.2,1201.7 1486.1,1202.8 1492.0,1203.6 1498.0,1204.9 1503.9,1207.1 1509.8,1203.0 1515.7,1198.8 1521.7,1200.3 1527.6,1200.0 1533.5,1200.2 1539.5,1198.9 1545.4,1194.9 1551.3,1194.8 1557.2,1193.6 1563.2,1194.5 1569.1,1194.5 1575.0,1197.5 1581.0,1198.4 1586.9,1203.7 1592.8,1201.8 1598.7,1201.2 1604.7,1202.2 1610.6,1202.2 1616.5,1198.5 1622.5,1198.5 1628.4,1200.8 1634.3,1198.1 1640.2,1197.9 1646.2,1196.9 1652.1,1192.7 1658.0,1194.3 1664.0,1197.0 1669.9,1199.8 1675.8,1201.7 1681.7,1202.7 1687.7,1200.9 1693.6,1198.7 1699.5,1194.8 1705.5,1193.9 1711.4,1193.2 1717.3,1193.1 1723.2,1196.9 1729.2,1195.3 1735.1,1193.4 1741.0,1193.7 1747.0,1193.1 1752.9,1196.2 1758.8,1199.8 1764.7,1204.5 1770.7,1201.5 1776.6,1200.9 1782.5,1197.9 1788.5,1194.7 1794.4,1191.7 1800.3,1191.5 1806.2,1193.6 1812.2,1194.0 1818.1,1192.6 1824.0,1191.3 1829.9,1191.0 1835.9,1190.0 1841.8,1188.6 1847.7,1188.9 1853.7,1188.2 1859.6,1187.1 1865.5,1191.0 1871.4,1193.9 1877.4,1192.3 1883.3,1194.1 1889.2,1192.9 1895.2,1191.7 1901.1,1192.2 1907.0,1198.0 1912.9,1193.3 1918.9,1194.1 1924.8,1193.5 1930.7,1192.9 1936.7,1196.0 1942.6,1195.1 1948.5,1195.3 1954.4,1194.8 1960.4,1193.0 1966.3,1192.9"/>
</g>
<text x="7" y="1193.8" fill="#000" font-size="17.4">RSI(14) 62.8917</text>
<g><line x1="2472" y1="43.5" x2="2476.5" y2="43.5" stroke="#404040" stroke-width="1.1"/><text transform="translate(2480.3,49.9) scale(0.955,1)" fill="#000" font-size="18">1.36925</text><line x1="2472" y1="115.5" x2="2476.5" y2="115.5" stroke="#404040" stroke-width="1.1"/><text transform="translate(2480.3,121.9) scale(0.955,1)" fill="#000" font-size="18">1.36510</text><line x1="2472" y1="259.5" x2="2476.5" y2="259.5" stroke="#404040" stroke-width="1.1"/><text transform="translate(2480.3,265.9) scale(0.955,1)" fill="#000" font-size="18">1.35680</text><line x1="2472" y1="330.6" x2="2476.5" y2="330.6" stroke="#404040" stroke-width="1.1"/><text transform="translate(2480.3,337.0) scale(0.955,1)" fill="#000" font-size="18">1.35270</text><line x1="2472" y1="474.6" x2="2476.5" y2="474.6" stroke="#404040" stroke-width="1.1"/><text transform="translate(2480.3,481.0) scale(0.955,1)" fill="#000" font-size="18">1.34440</text><line x1="2472" y1="546.6" x2="2476.5" y2="546.6" stroke="#404040" stroke-width="1.1"/><text transform="translate(2480.3,553.0) scale(0.955,1)" fill="#000" font-size="18">1.34025</text><line x1="2472" y1="690.6" x2="2476.5" y2="690.6" stroke="#404040" stroke-width="1.1"/><text transform="translate(2480.3,697.0) scale(0.955,1)" fill="#000" font-size="18">1.33195</text><line x1="2472" y1="762.6" x2="2476.5" y2="762.6" stroke="#404040" stroke-width="1.1"/><text transform="translate(2480.3,769.0) scale(0.955,1)" fill="#000" font-size="18">1.32780</text><line x1="2472" y1="834.6" x2="2476.5" y2="834.6" stroke="#404040" stroke-width="1.1"/><text transform="translate(2480.3,841.0) scale(0.955,1)" fill="#000" font-size="18">1.32365</text><line x1="2472" y1="906.6" x2="2476.5" y2="906.6" stroke="#404040" stroke-width="1.1"/><text transform="translate(2480.3,913.0) scale(0.955,1)" fill="#000" font-size="18">1.31950</text><line x1="2472" y1="978.6" x2="2476.5" y2="978.6" stroke="#404040" stroke-width="1.1"/><text transform="translate(2480.3,985.0) scale(0.955,1)" fill="#000" font-size="18">1.31535</text><line x1="2472" y1="1050.6" x2="2476.5" y2="1050.6" stroke="#404040" stroke-width="1.1"/><text transform="translate(2480.3,1057.0) scale(0.955,1)" fill="#000" font-size="18">1.31120</text><line x1="2472" y1="1122.6" x2="2476.5" y2="1122.6" stroke="#404040" stroke-width="1.1"/><text transform="translate(2480.3,1129.0) scale(0.955,1)" fill="#000" font-size="18">1.30705</text></g>
<g><rect x="2473.6" y="74.2" width="74.4" height="20.5" fill="#1e90ff"/><text x="2480.5" y="90.8" fill="#fff" font-size="17.4">1.36719</text><rect x="2473.6" y="180.4" width="74.4" height="20.5" fill="#f5a30f"/><text x="2480.5" y="197.0" fill="#fff" font-size="17.4">1.36108</text><rect x="2473.6" y="286.6" width="74.4" height="20.5" fill="#ff4500"/><text x="2480.5" y="303.2" fill="#fff" font-size="17.4">1.35498</text><rect x="2473.6" y="392.2" width="74.4" height="20.5" fill="#6b8e23"/><text x="2480.5" y="408.8" fill="#fff" font-size="17.4">1.34888</text><rect x="2473.6" y="498.4" width="74.4" height="20.5" fill="#1e90ff"/><text x="2480.5" y="515.0" fill="#fff" font-size="17.4">1.34277</text><rect x="2473.6" y="547.8" width="74.4" height="20.5" fill="#ff4500"/><text x="2480.5" y="564.4" fill="#fff" font-size="17.4">1.33960</text><rect x="2473.6" y="552.7" width="74.4" height="20.5" fill="#000000"/><text x="2480.5" y="569.3" fill="#fff" font-size="17.4">1.33928</text><rect x="2473.6" y="604.0" width="74.4" height="20.5" fill="#6b8e23"/><text x="2480.5" y="620.6" fill="#fff" font-size="17.4">1.33667</text><rect x="2473.6" y="709.8" width="74.4" height="20.5" fill="#ff4500"/><text x="2480.5" y="726.4" fill="#fff" font-size="17.4">1.33057</text><rect x="2473.6" y="816.0" width="74.4" height="20.5" fill="#f5a30f"/><text x="2480.5" y="832.6" fill="#fff" font-size="17.4">1.32446</text><rect x="2473.6" y="922.3" width="74.4" height="20.5" fill="#1e90ff"/><text x="2480.5" y="938.9" fill="#fff" font-size="17.4">1.31836</text><rect x="2473.6" y="1028.0" width="74.4" height="20.5" fill="#708090"/><text x="2480.5" y="1044.6" fill="#fff" font-size="17.4">1.31226</text><rect x="2473.6" y="1134.0" width="74.4" height="20.5" fill="#ff00ff"/><text x="2480.5" y="1150.6" fill="#fff" font-size="17.4">1.30615</text></g>
<g font-size="17.4" fill="#000"><text x="2475.5" y="1192.4">100</text><text x="2475.5" y="1195.5">70</text><text x="2475.5" y="1215.4">30</text><text x="2475.5" y="1219.4">0</text></g>
<g><line x1="3.6" y1="1224" x2="3.6" y2="1228.5" stroke="#404040" stroke-width="1.1"/><text transform="translate(3.9,1243.9) scale(0.96,1)" fill="#000" font-size="17.9">23 May 2023</text><line x1="146" y1="1224" x2="146" y2="1228.5" stroke="#404040" stroke-width="1.1"/><text transform="translate(146.3,1243.9) scale(0.96,1)" fill="#000" font-size="17.9">29 May 04:00</text><line x1="288" y1="1224" x2="288" y2="1228.5" stroke="#404040" stroke-width="1.1"/><text transform="translate(288.3,1243.9) scale(0.96,1)" fill="#000" font-size="17.9">2 Jun 04:00</text><line x1="430.5" y1="1224" x2="430.5" y2="1228.5" stroke="#404040" stroke-width="1.1"/><text transform="translate(430.8,1243.9) scale(0.96,1)" fill="#000" font-size="17.9">8 Jun 04:00</text><line x1="573" y1="1224" x2="573" y2="1228.5" stroke="#404040" stroke-width="1.1"/><text transform="translate(573.3,1243.9) scale(0.96,1)" fill="#000" font-size="17.9">14 Jun 04:00</text><line x1="715" y1="1224" x2="715" y2="1228.5" stroke="#404040" stroke-width="1.1"/><text transform="translate(715.3,1243.9) scale(0.96,1)" fill="#000" font-size="17.9">20 Jun 04:00</text><line x1="857.5" y1="1224" x2="857.5" y2="1228.5" stroke="#404040" stroke-width="1.1"/><text transform="translate(857.8,1243.9) scale(0.96,1)" fill="#000" font-size="17.9">26 Jun 04:00</text><line x1="1000" y1="1224" x2="1000" y2="1228.5" stroke="#404040" stroke-width="1.1"/><text transform="translate(1000.3,1243.9) scale(0.96,1)" fill="#000" font-size="17.9">30 Jun 04:00</text><line x1="1142" y1="1224" x2="1142" y2="1228.5" stroke="#404040" stroke-width="1.1"/><text transform="translate(1142.3,1243.9) scale(0.96,1)" fill="#000" font-size="17.9">6 Jul 04:00</text><line x1="1284" y1="1224" x2="1284" y2="1228.5" stroke="#404040" stroke-width="1.1"/><text transform="translate(1284.3,1243.9) scale(0.96,1)" fill="#000" font-size="17.9">12 Jul 04:00</text><line x1="1426.5" y1="1224" x2="1426.5" y2="1228.5" stroke="#404040" stroke-width="1.1"/><text transform="translate(1426.8,1243.9) scale(0.96,1)" fill="#000" font-size="17.9">18 Jul 04:00</text><line x1="1569" y1="1224" x2="1569" y2="1228.5" stroke="#404040" stroke-width="1.1"/><text transform="translate(1569.3,1243.9) scale(0.96,1)" fill="#000" font-size="17.9">24 Jul 04:00</text><line x1="1711" y1="1224" x2="1711" y2="1228.5" stroke="#404040" stroke-width="1.1"/><text transform="translate(1711.3,1243.9) scale(0.96,1)" fill="#000" font-size="17.9">28 Jul 04:00</text><line x1="1853.6" y1="1224" x2="1853.6" y2="1228.5" stroke="#404040" stroke-width="1.1"/><text transform="translate(1853.8999999999999,1243.9) scale(0.96,1)" fill="#000" font-size="17.9">3 Aug 04:00</text></g>
<polygon points="5.9,7.4 18.4,7.4 12.15,13.8" fill="#000"/>
<g fill="#000" font-size="17.4"><text x="28" y="18.4" textLength="132.5" lengthAdjust="spacingAndGlyphs">USDCADmicro,H4</text><text x="170.3" y="18.4">1.33912</text><text x="238.6" y="18.4">1.33954</text><text x="306.6" y="18.4">1.33910</text><text x="374.8" y="18.4">1.33928</text></g>
</svg></body></html>
